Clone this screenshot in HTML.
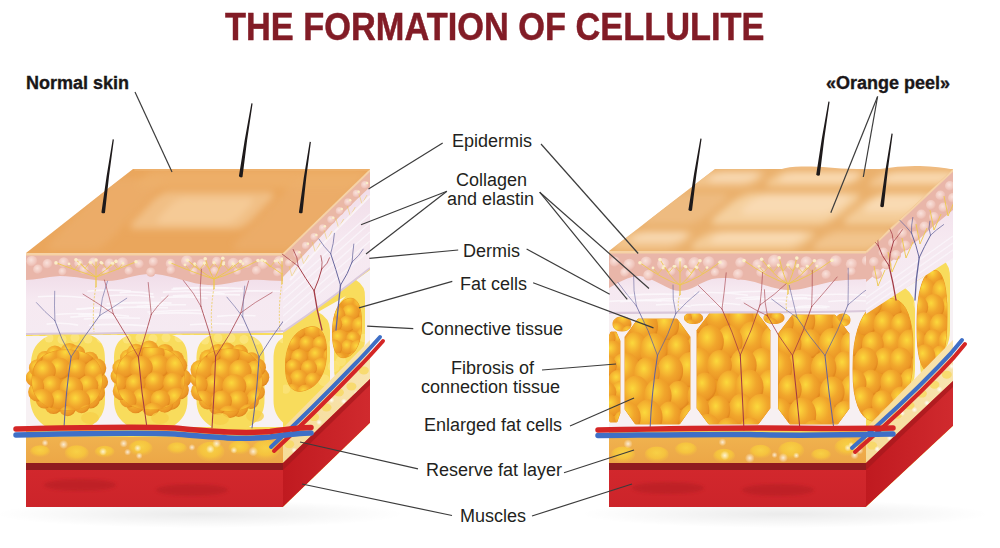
<!DOCTYPE html><html><head><meta charset="utf-8"><style>
html,body{margin:0;padding:0;background:#fff;}
body{width:1000px;height:548px;overflow:hidden;position:relative;}
svg{position:absolute;left:0;top:0;}
.t{position:absolute;font-family:"Liberation Sans",sans-serif;color:#231f20;white-space:nowrap;line-height:1;}
</style></head><body>
<svg width="1000" height="548" viewBox="0 0 1000 548">

<defs>
 <filter id="blur4" x="-10%" y="-10%" width="120%" height="120%"><feGaussianBlur stdDeviation="3.5"/></filter>
 <filter id="blur2"><feGaussianBlur stdDeviation="1.5"/></filter>
 <radialGradient id="tileL" cx="0.5" cy="0.5" r="0.5">
  <stop offset="0" stop-color="#f6cc98"/><stop offset="0.55" stop-color="#f2bf83"/><stop offset="1" stop-color="#eba75e" stop-opacity="0"/>
 </radialGradient>
 <radialGradient id="tileR" cx="0.5" cy="0.5" r="0.55">
  <stop offset="0" stop-color="#f9dfba"/><stop offset="0.55" stop-color="#f5cd9c"/><stop offset="0.85" stop-color="#efbd82"/><stop offset="1" stop-color="#eab06c" stop-opacity="0"/>
 </radialGradient>
 <radialGradient id="ball" cx="0.38" cy="0.36" r="0.66">
  <stop offset="0" stop-color="#fbd93c"/><stop offset="0.22" stop-color="#f8c436"/><stop offset="0.55" stop-color="#f1a62c"/><stop offset="0.88" stop-color="#eb9626"/><stop offset="1" stop-color="#e0861c"/>
 </radialGradient>
 <radialGradient id="blob" cx="0.5" cy="0.4" r="0.6">
  <stop offset="0" stop-color="#fce044"/><stop offset="0.6" stop-color="#f8cc3a"/><stop offset="1" stop-color="#f0b444" stop-opacity="0.3"/>
 </radialGradient>
 <radialGradient id="papilla" cx="0.42" cy="0.38" r="0.62">
  <stop offset="0" stop-color="#f9e2dc"/><stop offset="0.7" stop-color="#f0c6bc"/><stop offset="1" stop-color="#e9b3a7"/>
 </radialGradient>
 <radialGradient id="spark" cx="0.5" cy="0.5" r="0.5">
  <stop offset="0" stop-color="#ffffff" stop-opacity="0.95"/><stop offset="1" stop-color="#ffffff" stop-opacity="0"/>
 </radialGradient>
 <radialGradient id="shadow" cx="0.5" cy="0.5" r="0.5">
  <stop offset="0" stop-color="#000" stop-opacity="0.08"/><stop offset="1" stop-color="#000" stop-opacity="0"/>
 </radialGradient>
 <linearGradient id="lav" x1="0" y1="0" x2="0" y2="1">
  <stop offset="0" stop-color="#f0dce8"/><stop offset="0.45" stop-color="#f6e9f1"/><stop offset="1" stop-color="#f5eaf2"/>
 </linearGradient>
 <linearGradient id="resv" x1="0" y1="0" x2="0" y2="1">
  <stop offset="0" stop-color="#f0b24e"/><stop offset="1" stop-color="#eca646"/>
 </linearGradient>
 <linearGradient id="resvS" x1="0" y1="0" x2="1" y2="0">
  <stop offset="0" stop-color="#f6dc98"/><stop offset="1" stop-color="#f8e4b0"/>
 </linearGradient>
 <linearGradient id="musS" x1="0" y1="0" x2="1" y2="0">
  <stop offset="0" stop-color="#c01a20"/><stop offset="1" stop-color="#d02a2e"/>
 </linearGradient>
 <linearGradient id="mus" x1="0" y1="0" x2="0" y2="1">
  <stop offset="0" stop-color="#d3282d"/><stop offset="1" stop-color="#cc242a"/>
 </linearGradient>
</defs>

<rect width="1000" height="548" fill="#ffffff"/>
<ellipse cx="200" cy="514" rx="205" ry="14" fill="url(#shadow)"/>
<ellipse cx="785" cy="514" rx="205" ry="14" fill="url(#shadow)"/>
<clipPath id="cLF"><rect x="26" y="253" width="257" height="254"/></clipPath>
<g clip-path="url(#cLF)">
<rect x="26" y="253" width="257" height="254" fill="#f8dc58"/>
<rect x="26" y="330" width="257" height="98" fill="#f7f1f4"/>
<rect x="26" y="333" width="257" height="95" fill="#f8dc5c"/>
<circle cx="36" cy="338.5" r="4.5" fill="#fbe57e" opacity="0.85"/>
<circle cx="49" cy="338.0" r="4.5" fill="#fbe57e" opacity="0.85"/>
<circle cx="62" cy="339.5" r="4.5" fill="#fbe57e" opacity="0.85"/>
<circle cx="75" cy="337.7" r="4.5" fill="#fbe57e" opacity="0.85"/>
<circle cx="88" cy="339.1" r="4.5" fill="#fbe57e" opacity="0.85"/>
<circle cx="101" cy="338.6" r="4.5" fill="#fbe57e" opacity="0.85"/>
<circle cx="114" cy="337.7" r="4.5" fill="#fbe57e" opacity="0.85"/>
<circle cx="127" cy="339.0" r="4.5" fill="#fbe57e" opacity="0.85"/>
<circle cx="140" cy="337.6" r="4.5" fill="#fbe57e" opacity="0.85"/>
<circle cx="153" cy="338.8" r="4.5" fill="#fbe57e" opacity="0.85"/>
<circle cx="166" cy="337.7" r="4.5" fill="#fbe57e" opacity="0.85"/>
<circle cx="179" cy="337.8" r="4.5" fill="#fbe57e" opacity="0.85"/>
<circle cx="192" cy="338.8" r="4.5" fill="#fbe57e" opacity="0.85"/>
<circle cx="205" cy="340.0" r="4.5" fill="#fbe57e" opacity="0.85"/>
<circle cx="218" cy="337.9" r="4.5" fill="#fbe57e" opacity="0.85"/>
<circle cx="231" cy="338.2" r="4.5" fill="#fbe57e" opacity="0.85"/>
<circle cx="244" cy="339.4" r="4.5" fill="#fbe57e" opacity="0.85"/>
<circle cx="257" cy="340.3" r="4.5" fill="#fbe57e" opacity="0.85"/>
<circle cx="270" cy="339.2" r="4.5" fill="#fbe57e" opacity="0.85"/>
<circle cx="283" cy="338.7" r="4.5" fill="#fbe57e" opacity="0.85"/>
<path d="M89.5 335 C102.5 339 105.0 348 105.0 360 L105.0 400 C105.0 412 100.5 420 89.5 427 L129.5 427 C118.5 420 114.0 412 114.0 400 L114.0 360 C114.0 348 116.5 339 129.5 335 Z" fill="#f7f1f4"/>
<path d="M172 335 C185 339 187.5 348 187.5 360 L187.5 400 C187.5 412 183 420 172 427 L212 427 C201 420 196.5 412 196.5 400 L196.5 360 C196.5 348 199 339 212 335 Z" fill="#f7f1f4"/>
<path d="M249 335 C262 339 264.5 348 264.5 360 L264.5 400 C264.5 412 260 420 249 427 L289 427 C278 420 273.5 412 273.5 400 L273.5 360 C273.5 348 276 339 289 335 Z" fill="#f7f1f4"/>
<path d="M26 336 L48 336 C36 342 32 350 31 362 L30 400 C31 412 36 420 46 427 L26 427 Z" fill="#f7f1f4"/>
<circle cx="99.6" cy="381.8" r="8.5" fill="url(#ball)"/><circle cx="96.0" cy="392.8" r="9.0" fill="url(#ball)"/><circle cx="90.6" cy="399.2" r="9.2" fill="url(#ball)"/><circle cx="81.5" cy="404.8" r="8.4" fill="url(#ball)"/><circle cx="67.5" cy="407.7" r="8.5" fill="url(#ball)"/><circle cx="53.5" cy="405.2" r="8.8" fill="url(#ball)"/><circle cx="44.4" cy="400.0" r="8.6" fill="url(#ball)"/><circle cx="37.5" cy="392.0" r="9.4" fill="url(#ball)"/><circle cx="34.4" cy="377.8" r="8.7" fill="url(#ball)"/><circle cx="37.6" cy="367.9" r="8.7" fill="url(#ball)"/><circle cx="45.1" cy="359.4" r="8.5" fill="url(#ball)"/><circle cx="54.9" cy="354.3" r="8.8" fill="url(#ball)"/><circle cx="69.4" cy="352.4" r="9.5" fill="url(#ball)"/><circle cx="77.1" cy="353.7" r="8.3" fill="url(#ball)"/><circle cx="89.9" cy="360.3" r="8.5" fill="url(#ball)"/><circle cx="96.5" cy="368.1" r="9.8" fill="url(#ball)"/>
<clipPath id="cc1"><polygon points="102.0,380.0 101.6,386.0 100.5,390.8 98.7,395.1 96.1,398.9 92.9,402.2 89.0,405.0 84.6,407.1 79.6,408.7 74.0,409.7 67.0,410.0 60.0,409.7 54.4,408.7 49.4,407.1 45.0,405.0 41.1,402.2 37.9,398.9 35.3,395.1 33.5,390.8 32.4,386.0 32.0,380.0 32.4,374.0 33.5,369.2 35.3,364.9 37.9,361.1 41.1,357.8 45.0,355.0 49.4,352.9 54.4,351.3 60.0,350.3 67.0,350.0 74.0,350.3 79.6,351.3 84.6,352.9 89.0,355.0 92.9,357.8 96.1,361.1 98.7,364.9 100.5,369.2 101.6,374.0"/></clipPath><polygon points="102.0,380.0 101.6,386.0 100.5,390.8 98.7,395.1 96.1,398.9 92.9,402.2 89.0,405.0 84.6,407.1 79.6,408.7 74.0,409.7 67.0,410.0 60.0,409.7 54.4,408.7 49.4,407.1 45.0,405.0 41.1,402.2 37.9,398.9 35.3,395.1 33.5,390.8 32.4,386.0 32.0,380.0 32.4,374.0 33.5,369.2 35.3,364.9 37.9,361.1 41.1,357.8 45.0,355.0 49.4,352.9 54.4,351.3 60.0,350.3 67.0,350.0 74.0,350.3 79.6,351.3 84.6,352.9 89.0,355.0 92.9,357.8 96.1,361.1 98.7,364.9 100.5,369.2 101.6,374.0" fill="#ec9a22" stroke="#ec9a22" stroke-width="1" stroke-linejoin="round"/><g clip-path="url(#cc1)"><circle cx="84.2" cy="354.2" r="9.7" fill="url(#ball)"/><circle cx="49.8" cy="355.3" r="10.0" fill="url(#ball)"/><circle cx="67.9" cy="355.5" r="11.5" fill="url(#ball)"/><circle cx="105.0" cy="355.8" r="9.6" fill="url(#ball)"/><circle cx="32.0" cy="356.7" r="10.7" fill="url(#ball)"/><circle cx="59.6" cy="368.6" r="10.8" fill="url(#ball)"/><circle cx="77.2" cy="369.3" r="10.1" fill="url(#ball)"/><circle cx="95.0" cy="370.4" r="10.6" fill="url(#ball)"/><circle cx="44.8" cy="371.1" r="11.0" fill="url(#ball)"/><circle cx="104.5" cy="384.3" r="11.4" fill="url(#ball)"/><circle cx="88.2" cy="385.3" r="10.1" fill="url(#ball)"/><circle cx="52.0" cy="385.8" r="10.2" fill="url(#ball)"/><circle cx="33.4" cy="386.6" r="10.7" fill="url(#ball)"/><circle cx="71.4" cy="388.0" r="11.6" fill="url(#ball)"/><circle cx="60.0" cy="399.5" r="10.0" fill="url(#ball)"/><circle cx="94.2" cy="399.8" r="11.1" fill="url(#ball)"/><circle cx="42.0" cy="401.0" r="11.9" fill="url(#ball)"/><circle cx="78.2" cy="401.4" r="12.0" fill="url(#ball)"/><circle cx="32.2" cy="415.3" r="10.3" fill="url(#ball)"/><circle cx="68.1" cy="415.4" r="9.6" fill="url(#ball)"/><circle cx="88.3" cy="415.7" r="10.9" fill="url(#ball)"/><circle cx="104.9" cy="415.8" r="11.3" fill="url(#ball)"/><circle cx="53.0" cy="418.0" r="9.8" fill="url(#ball)"/></g>
<circle cx="182.2" cy="378.4" r="9.3" fill="url(#ball)"/><circle cx="179.5" cy="390.1" r="9.4" fill="url(#ball)"/><circle cx="171.0" cy="400.4" r="9.5" fill="url(#ball)"/><circle cx="164.6" cy="404.2" r="8.5" fill="url(#ball)"/><circle cx="150.8" cy="407.2" r="8.8" fill="url(#ball)"/><circle cx="135.7" cy="403.9" r="9.4" fill="url(#ball)"/><circle cx="128.2" cy="398.9" r="8.7" fill="url(#ball)"/><circle cx="121.9" cy="390.9" r="9.2" fill="url(#ball)"/><circle cx="118.9" cy="376.1" r="8.4" fill="url(#ball)"/><circle cx="121.1" cy="367.8" r="8.7" fill="url(#ball)"/><circle cx="128.6" cy="357.8" r="8.6" fill="url(#ball)"/><circle cx="135.9" cy="353.0" r="9.3" fill="url(#ball)"/><circle cx="149.3" cy="349.8" r="9.3" fill="url(#ball)"/><circle cx="165.0" cy="353.0" r="9.1" fill="url(#ball)"/><circle cx="174.7" cy="359.9" r="9.5" fill="url(#ball)"/><circle cx="178.6" cy="365.2" r="8.5" fill="url(#ball)"/>
<clipPath id="cc2"><polygon points="184.5,378.5 184.1,384.7 183.0,389.7 181.3,394.1 178.8,398.0 175.7,401.4 171.9,404.3 167.6,406.5 162.7,408.2 157.3,409.2 150.5,409.5 143.7,409.2 138.3,408.2 133.4,406.5 129.1,404.3 125.3,401.4 122.2,398.0 119.7,394.1 118.0,389.7 116.9,384.7 116.5,378.5 116.9,372.3 118.0,367.3 119.7,362.9 122.2,359.0 125.3,355.6 129.1,352.7 133.4,350.5 138.3,348.8 143.7,347.8 150.5,347.5 157.3,347.8 162.7,348.8 167.6,350.5 171.9,352.7 175.7,355.6 178.8,359.0 181.3,362.9 183.0,367.3 184.1,372.3"/></clipPath><polygon points="184.5,378.5 184.1,384.7 183.0,389.7 181.3,394.1 178.8,398.0 175.7,401.4 171.9,404.3 167.6,406.5 162.7,408.2 157.3,409.2 150.5,409.5 143.7,409.2 138.3,408.2 133.4,406.5 129.1,404.3 125.3,401.4 122.2,398.0 119.7,394.1 118.0,389.7 116.9,384.7 116.5,378.5 116.9,372.3 118.0,367.3 119.7,362.9 122.2,359.0 125.3,355.6 129.1,352.7 133.4,350.5 138.3,348.8 143.7,347.8 150.5,347.5 157.3,347.8 162.7,348.8 167.6,350.5 171.9,352.7 175.7,355.6 178.8,359.0 181.3,362.9 183.0,367.3 184.1,372.3" fill="#ec9a22" stroke="#ec9a22" stroke-width="1" stroke-linejoin="round"/><g clip-path="url(#cc2)"><circle cx="188.2" cy="351.1" r="11.8" fill="url(#ball)"/><circle cx="132.4" cy="352.0" r="10.2" fill="url(#ball)"/><circle cx="170.6" cy="353.1" r="9.9" fill="url(#ball)"/><circle cx="117.0" cy="353.2" r="9.9" fill="url(#ball)"/><circle cx="153.6" cy="353.3" r="11.0" fill="url(#ball)"/><circle cx="157.8" cy="366.2" r="11.8" fill="url(#ball)"/><circle cx="125.0" cy="366.3" r="11.2" fill="url(#ball)"/><circle cx="177.8" cy="366.4" r="12.0" fill="url(#ball)"/><circle cx="141.1" cy="367.6" r="11.6" fill="url(#ball)"/><circle cx="155.1" cy="381.7" r="9.9" fill="url(#ball)"/><circle cx="173.5" cy="383.1" r="10.5" fill="url(#ball)"/><circle cx="116.7" cy="383.2" r="9.8" fill="url(#ball)"/><circle cx="190.7" cy="383.4" r="10.5" fill="url(#ball)"/><circle cx="135.5" cy="384.0" r="9.9" fill="url(#ball)"/><circle cx="142.3" cy="398.4" r="10.4" fill="url(#ball)"/><circle cx="176.6" cy="398.5" r="10.8" fill="url(#ball)"/><circle cx="160.4" cy="399.7" r="9.8" fill="url(#ball)"/><circle cx="124.5" cy="400.9" r="11.9" fill="url(#ball)"/><circle cx="117.7" cy="412.6" r="11.6" fill="url(#ball)"/><circle cx="190.5" cy="412.6" r="10.2" fill="url(#ball)"/><circle cx="153.4" cy="414.1" r="11.4" fill="url(#ball)"/><circle cx="135.5" cy="414.6" r="10.1" fill="url(#ball)"/><circle cx="170.2" cy="414.7" r="9.9" fill="url(#ball)"/></g>
<circle cx="259.6" cy="377.3" r="9.7" fill="url(#ball)"/><circle cx="256.8" cy="392.1" r="8.1" fill="url(#ball)"/><circle cx="250.5" cy="400.5" r="8.5" fill="url(#ball)"/><circle cx="238.6" cy="407.3" r="9.6" fill="url(#ball)"/><circle cx="230.2" cy="408.7" r="9.2" fill="url(#ball)"/><circle cx="217.3" cy="406.5" r="8.6" fill="url(#ball)"/><circle cx="207.6" cy="400.6" r="8.8" fill="url(#ball)"/><circle cx="200.7" cy="391.2" r="9.8" fill="url(#ball)"/><circle cx="198.3" cy="378.7" r="8.2" fill="url(#ball)"/><circle cx="200.3" cy="369.8" r="9.8" fill="url(#ball)"/><circle cx="208.5" cy="358.7" r="9.2" fill="url(#ball)"/><circle cx="218.1" cy="353.2" r="9.3" fill="url(#ball)"/><circle cx="226.9" cy="351.4" r="8.8" fill="url(#ball)"/><circle cx="239.5" cy="353.0" r="8.4" fill="url(#ball)"/><circle cx="251.5" cy="360.5" r="8.2" fill="url(#ball)"/><circle cx="256.6" cy="367.3" r="9.4" fill="url(#ball)"/>
<clipPath id="cc3"><polygon points="262.0,380.0 261.6,386.2 260.6,391.2 258.8,395.6 256.4,399.5 253.4,402.9 249.8,405.8 245.6,408.0 240.9,409.7 235.6,410.7 229.0,411.0 222.4,410.7 217.1,409.7 212.4,408.0 208.2,405.8 204.6,402.9 201.6,399.5 199.2,395.6 197.4,391.2 196.4,386.2 196.0,380.0 196.4,373.8 197.4,368.8 199.2,364.4 201.6,360.5 204.6,357.1 208.2,354.2 212.4,352.0 217.1,350.3 222.4,349.3 229.0,349.0 235.6,349.3 240.9,350.3 245.6,352.0 249.8,354.2 253.4,357.1 256.4,360.5 258.8,364.4 260.6,368.8 261.6,373.8"/></clipPath><polygon points="262.0,380.0 261.6,386.2 260.6,391.2 258.8,395.6 256.4,399.5 253.4,402.9 249.8,405.8 245.6,408.0 240.9,409.7 235.6,410.7 229.0,411.0 222.4,410.7 217.1,409.7 212.4,408.0 208.2,405.8 204.6,402.9 201.6,399.5 199.2,395.6 197.4,391.2 196.4,386.2 196.0,380.0 196.4,373.8 197.4,368.8 199.2,364.4 201.6,360.5 204.6,357.1 208.2,354.2 212.4,352.0 217.1,350.3 222.4,349.3 229.0,349.0 235.6,349.3 240.9,350.3 245.6,352.0 249.8,354.2 253.4,357.1 256.4,360.5 258.8,364.4 260.6,368.8 261.6,373.8" fill="#ec9a22" stroke="#ec9a22" stroke-width="1" stroke-linejoin="round"/><g clip-path="url(#cc3)"><circle cx="249.2" cy="352.9" r="10.2" fill="url(#ball)"/><circle cx="211.8" cy="352.9" r="9.9" fill="url(#ball)"/><circle cx="195.8" cy="354.7" r="11.6" fill="url(#ball)"/><circle cx="229.9" cy="354.9" r="9.8" fill="url(#ball)"/><circle cx="266.8" cy="355.4" r="11.0" fill="url(#ball)"/><circle cx="202.2" cy="368.1" r="11.7" fill="url(#ball)"/><circle cx="222.3" cy="370.7" r="11.6" fill="url(#ball)"/><circle cx="256.1" cy="370.9" r="10.7" fill="url(#ball)"/><circle cx="240.0" cy="371.3" r="11.5" fill="url(#ball)"/><circle cx="214.7" cy="384.3" r="9.8" fill="url(#ball)"/><circle cx="197.3" cy="384.7" r="10.4" fill="url(#ball)"/><circle cx="251.8" cy="385.2" r="11.4" fill="url(#ball)"/><circle cx="267.6" cy="385.7" r="10.6" fill="url(#ball)"/><circle cx="234.3" cy="386.2" r="12.0" fill="url(#ball)"/><circle cx="256.6" cy="399.3" r="10.4" fill="url(#ball)"/><circle cx="238.2" cy="400.5" r="10.1" fill="url(#ball)"/><circle cx="202.5" cy="400.6" r="10.1" fill="url(#ball)"/><circle cx="221.5" cy="400.9" r="10.5" fill="url(#ball)"/><circle cx="248.8" cy="414.6" r="10.5" fill="url(#ball)"/><circle cx="228.9" cy="417.2" r="11.6" fill="url(#ball)"/><circle cx="267.8" cy="417.5" r="11.5" fill="url(#ball)"/><circle cx="213.2" cy="417.7" r="9.6" fill="url(#ball)"/><circle cx="194.9" cy="417.8" r="10.5" fill="url(#ball)"/></g>
<ellipse cx="90" cy="418" rx="9" ry="6" fill="#f6cf4a" opacity="0.8"/>
<ellipse cx="160" cy="418" rx="9" ry="6" fill="#f6cf4a" opacity="0.8"/>
<ellipse cx="220" cy="419" rx="9" ry="6" fill="#f6cf4a" opacity="0.8"/>
<ellipse cx="255" cy="416" rx="9" ry="6" fill="#f6cf4a" opacity="0.8"/>
<path d="M26 272 L283 272 L283 331 C240 333 180 332 120 333 C80 334 50 333 26 334 Z" fill="url(#lav)"/>
<path d="M26 334 C50 333 80 334 120 333 C180 332 240 333 283 331" stroke="#dac8da" stroke-width="2.2" fill="none"/>
<path d="M46.5 324.1 q15.9 -2 31.7 1.0" stroke="#fcf8fb" stroke-width="1.6" fill="none" opacity="0.85"/>
<path d="M217.0 316.4 q19.3 -2 38.6 -0.6" stroke="#fcf8fb" stroke-width="1.6" fill="none" opacity="0.85"/>
<path d="M189.9 324.7 q27.4 -2 54.8 0.2" stroke="#fcf8fb" stroke-width="1.6" fill="none" opacity="0.85"/>
<path d="M114.1 303.4 q28.7 -2 57.4 -0.3" stroke="#fcf8fb" stroke-width="1.6" fill="none" opacity="0.85"/>
<path d="M147.3 312.0 q26.7 -2 53.5 -1.8" stroke="#fcf8fb" stroke-width="1.6" fill="none" opacity="0.85"/>
<path d="M78.3 314.8 q25.3 -2 50.7 1.4" stroke="#fcf8fb" stroke-width="1.6" fill="none" opacity="0.85"/>
<path d="M37.9 296.8 q23.8 -2 47.6 1.0" stroke="#fcf8fb" stroke-width="1.6" fill="none" opacity="0.85"/>
<path d="M70.3 317.1 q21.7 -2 43.5 -0.8" stroke="#fcf8fb" stroke-width="1.6" fill="none" opacity="0.85"/>
<path d="M214.3 292.1 q33.5 -2 67.0 -0.8" stroke="#fcf8fb" stroke-width="1.6" fill="none" opacity="0.85"/>
<path d="M108.2 295.7 q23.0 -2 46.1 1.4" stroke="#fcf8fb" stroke-width="1.6" fill="none" opacity="0.85"/>
<path d="M76.2 309.1 q22.4 -2 44.8 -0.8" stroke="#fcf8fb" stroke-width="1.6" fill="none" opacity="0.85"/>
<path d="M55.6 314.5 q21.8 -2 43.7 -0.1" stroke="#fcf8fb" stroke-width="1.6" fill="none" opacity="0.85"/>
<path d="M162.8 292.1 q30.9 -2 61.8 1.6" stroke="#fcf8fb" stroke-width="1.6" fill="none" opacity="0.85"/>
<path d="M83.7 319.0 q28.2 -2 56.4 -0.8" stroke="#fcf8fb" stroke-width="1.6" fill="none" opacity="0.85"/>
<path d="M87.3 291.2 q21.8 -2 43.6 -0.2" stroke="#fcf8fb" stroke-width="1.6" fill="none" opacity="0.85"/>
<path d="M136.5 306.3 q24.8 -2 49.7 -1.5" stroke="#fcf8fb" stroke-width="1.6" fill="none" opacity="0.85"/>
<path d="M77.0 309.2 q23.1 -2 46.3 -1.3" stroke="#fcf8fb" stroke-width="1.6" fill="none" opacity="0.85"/>
<path d="M88.8 325.2 q30.5 -2 61.0 0.9" stroke="#fcf8fb" stroke-width="1.6" fill="none" opacity="0.85"/>
<path d="M106.6 303.9 q28.4 -2 56.7 0.2" stroke="#fcf8fb" stroke-width="1.6" fill="none" opacity="0.85"/>
<path d="M171.4 289.4 q28.5 -2 57.1 -1.2" stroke="#fcf8fb" stroke-width="1.6" fill="none" opacity="0.85"/>
<path d="M100.3 308.2 q33.9 -2 67.7 -0.4" stroke="#fcf8fb" stroke-width="1.6" fill="none" opacity="0.85"/>
<path d="M172.7 295.9 q33.6 -2 67.3 -1.0" stroke="#fcf8fb" stroke-width="1.6" fill="none" opacity="0.85"/>
<path d="M148.8 313.9 q28.2 -2 56.5 -0.2" stroke="#fcf8fb" stroke-width="1.6" fill="none" opacity="0.85"/>
<path d="M172.9 288.4 q34.7 -2 69.3 0.2" stroke="#fcf8fb" stroke-width="1.6" fill="none" opacity="0.85"/>
<path d="M161.1 297.7 q23.3 -2 46.6 0.6" stroke="#fcf8fb" stroke-width="1.6" fill="none" opacity="0.85"/>
<path d="M119.6 292.6 q16.9 -2 33.8 1.5" stroke="#fcf8fb" stroke-width="1.6" fill="none" opacity="0.85"/>
<path d="M26 253 L283 253 L283 281 C272 281 262 279 250 280 C235 281 222 286 208 285 C190 284 175 276 155 274 C135 273 120 282 105 281 C90 280 75 276 60 276 C45 277 35 280 26 280 Z" fill="#e9b6a9"/>
<circle cx="32.0" cy="261.3" r="5.6" fill="url(#papilla)"/><circle cx="47.6" cy="264.0" r="5.0" fill="url(#papilla)"/><circle cx="63.9" cy="262.6" r="5.4" fill="url(#papilla)"/><circle cx="78.9" cy="263.5" r="4.7" fill="url(#papilla)"/><circle cx="93.4" cy="262.2" r="4.8" fill="url(#papilla)"/><circle cx="109.7" cy="263.5" r="5.0" fill="url(#papilla)"/><circle cx="122.6" cy="263.0" r="5.7" fill="url(#papilla)"/><circle cx="139.3" cy="264.2" r="4.7" fill="url(#papilla)"/><circle cx="153.5" cy="262.0" r="4.8" fill="url(#papilla)"/><circle cx="170.6" cy="263.7" r="4.9" fill="url(#papilla)"/><circle cx="187.0" cy="261.2" r="6.0" fill="url(#papilla)"/><circle cx="201.8" cy="264.1" r="5.1" fill="url(#papilla)"/><circle cx="216.7" cy="261.4" r="4.7" fill="url(#papilla)"/><circle cx="233.4" cy="263.5" r="5.7" fill="url(#papilla)"/><circle cx="247.1" cy="262.9" r="5.9" fill="url(#papilla)"/><circle cx="263.2" cy="264.5" r="5.5" fill="url(#papilla)"/><circle cx="279.2" cy="261.2" r="5.3" fill="url(#papilla)"/>
<circle cx="38.0" cy="269.4" r="4.9" fill="url(#papilla)"/><circle cx="62.6" cy="271.8" r="4.2" fill="url(#papilla)"/><circle cx="84.2" cy="269.8" r="4.9" fill="url(#papilla)"/><circle cx="105.5" cy="271.1" r="3.9" fill="url(#papilla)"/><circle cx="128.9" cy="271.0" r="4.4" fill="url(#papilla)"/><circle cx="150.9" cy="272.1" r="4.7" fill="url(#papilla)"/><circle cx="171.0" cy="270.2" r="4.5" fill="url(#papilla)"/><circle cx="193.8" cy="271.4" r="4.0" fill="url(#papilla)"/><circle cx="214.8" cy="270.9" r="4.2" fill="url(#papilla)"/><circle cx="237.5" cy="271.6" r="3.9" fill="url(#papilla)"/><circle cx="256.6" cy="270.6" r="4.7" fill="url(#papilla)"/><circle cx="277.8" cy="272.4" r="4.6" fill="url(#papilla)"/>
<path d="M96 287 L96 277" stroke="#edc84c" stroke-width="1.3" fill="none"/><path d="M96 277 Q78.0 271.0 56.0 262.9" stroke="#edc84c" stroke-width="0.9" fill="none"/><path d="M74.0 269.9 L69.0 263.9" stroke="#edc84c" stroke-width="0.7" fill="none"/><circle cx="69.0" cy="263.9" r="1.4" fill="#fbeec8"/><path d="M74.0 269.9 L79.0 263.9" stroke="#edc84c" stroke-width="0.7" fill="none"/><circle cx="79.0" cy="263.9" r="1.4" fill="#fbeec8"/><circle cx="56.0" cy="262.9" r="1.8" fill="#fbeec8"/><path d="M96 277 Q87.0 271.0 76.0 259.7" stroke="#edc84c" stroke-width="0.9" fill="none"/><path d="M85.0 268.4 L80.0 262.4" stroke="#edc84c" stroke-width="0.7" fill="none"/><circle cx="80.0" cy="262.4" r="1.4" fill="#fbeec8"/><path d="M85.0 268.4 L90.0 262.4" stroke="#edc84c" stroke-width="0.7" fill="none"/><circle cx="90.0" cy="262.4" r="1.4" fill="#fbeec8"/><circle cx="76.0" cy="259.7" r="1.8" fill="#fbeec8"/><path d="M96 277 Q96.0 271.0 96.0 260.0" stroke="#edc84c" stroke-width="0.9" fill="none"/><path d="M96.0 268.5 L91.0 262.5" stroke="#edc84c" stroke-width="0.7" fill="none"/><circle cx="91.0" cy="262.5" r="1.4" fill="#fbeec8"/><path d="M96.0 268.5 L101.0 262.5" stroke="#edc84c" stroke-width="0.7" fill="none"/><circle cx="101.0" cy="262.5" r="1.4" fill="#fbeec8"/><circle cx="96.0" cy="260.0" r="1.8" fill="#fbeec8"/><path d="M96 277 Q105.0 271.0 116.0 261.4" stroke="#edc84c" stroke-width="0.9" fill="none"/><path d="M107.0 269.2 L102.0 263.2" stroke="#edc84c" stroke-width="0.7" fill="none"/><circle cx="102.0" cy="263.2" r="1.4" fill="#fbeec8"/><path d="M107.0 269.2 L112.0 263.2" stroke="#edc84c" stroke-width="0.7" fill="none"/><circle cx="112.0" cy="263.2" r="1.4" fill="#fbeec8"/><circle cx="116.0" cy="261.4" r="1.8" fill="#fbeec8"/><path d="M96 277 Q114.0 271.0 136.0 261.8" stroke="#edc84c" stroke-width="0.9" fill="none"/><path d="M118.0 269.4 L113.0 263.4" stroke="#edc84c" stroke-width="0.7" fill="none"/><circle cx="113.0" cy="263.4" r="1.4" fill="#fbeec8"/><path d="M118.0 269.4 L123.0 263.4" stroke="#edc84c" stroke-width="0.7" fill="none"/><circle cx="123.0" cy="263.4" r="1.4" fill="#fbeec8"/><circle cx="136.0" cy="261.8" r="1.8" fill="#fbeec8"/>
<path d="M96 286 Q92 308 94 332" stroke="#eed070" stroke-width="1" stroke-dasharray="2 1.5" fill="none"/>
<path d="M214 289 L214 279" stroke="#edc84c" stroke-width="1.3" fill="none"/><path d="M214 279 Q194.2 273.0 170.0 262.6" stroke="#edc84c" stroke-width="0.9" fill="none"/><path d="M190.0 270.8 L185.0 264.8" stroke="#edc84c" stroke-width="0.7" fill="none"/><circle cx="185.0" cy="264.8" r="1.4" fill="#fbeec8"/><path d="M190.0 270.8 L195.0 264.8" stroke="#edc84c" stroke-width="0.7" fill="none"/><circle cx="195.0" cy="264.8" r="1.4" fill="#fbeec8"/><circle cx="170.0" cy="262.6" r="1.8" fill="#fbeec8"/><path d="M214 279 Q202.1 273.0 187.6 260.3" stroke="#edc84c" stroke-width="0.9" fill="none"/><path d="M199.6 269.6 L194.6 263.6" stroke="#edc84c" stroke-width="0.7" fill="none"/><circle cx="194.6" cy="263.6" r="1.4" fill="#fbeec8"/><path d="M199.6 269.6 L204.6 263.6" stroke="#edc84c" stroke-width="0.7" fill="none"/><circle cx="204.6" cy="263.6" r="1.4" fill="#fbeec8"/><circle cx="187.6" cy="260.3" r="1.8" fill="#fbeec8"/><path d="M214 279 Q210.0 273.0 205.2 258.7" stroke="#edc84c" stroke-width="0.9" fill="none"/><path d="M209.2 268.9 L204.2 262.9" stroke="#edc84c" stroke-width="0.7" fill="none"/><circle cx="204.2" cy="262.9" r="1.4" fill="#fbeec8"/><path d="M209.2 268.9 L214.2 262.9" stroke="#edc84c" stroke-width="0.7" fill="none"/><circle cx="214.2" cy="262.9" r="1.4" fill="#fbeec8"/><circle cx="205.2" cy="258.7" r="1.8" fill="#fbeec8"/><path d="M214 279 Q218.0 273.0 222.8 258.3" stroke="#edc84c" stroke-width="0.9" fill="none"/><path d="M218.8 268.7 L213.8 262.7" stroke="#edc84c" stroke-width="0.7" fill="none"/><circle cx="213.8" cy="262.7" r="1.4" fill="#fbeec8"/><path d="M218.8 268.7 L223.8 262.7" stroke="#edc84c" stroke-width="0.7" fill="none"/><circle cx="223.8" cy="262.7" r="1.4" fill="#fbeec8"/><circle cx="222.8" cy="258.3" r="1.8" fill="#fbeec8"/><path d="M214 279 Q225.9 273.0 240.4 261.4" stroke="#edc84c" stroke-width="0.9" fill="none"/><path d="M228.4 270.2 L223.4 264.2" stroke="#edc84c" stroke-width="0.7" fill="none"/><circle cx="223.4" cy="264.2" r="1.4" fill="#fbeec8"/><path d="M228.4 270.2 L233.4 264.2" stroke="#edc84c" stroke-width="0.7" fill="none"/><circle cx="233.4" cy="264.2" r="1.4" fill="#fbeec8"/><circle cx="240.4" cy="261.4" r="1.8" fill="#fbeec8"/><path d="M214 279 Q233.8 273.0 258.0 260.5" stroke="#edc84c" stroke-width="0.9" fill="none"/><path d="M238.0 269.7 L233.0 263.7" stroke="#edc84c" stroke-width="0.7" fill="none"/><circle cx="233.0" cy="263.7" r="1.4" fill="#fbeec8"/><path d="M238.0 269.7 L243.0 263.7" stroke="#edc84c" stroke-width="0.7" fill="none"/><circle cx="243.0" cy="263.7" r="1.4" fill="#fbeec8"/><circle cx="258.0" cy="260.5" r="1.8" fill="#fbeec8"/>
<path d="M214 288 Q210 310 212 332" stroke="#eed070" stroke-width="1" stroke-dasharray="2 1.5" fill="none"/>
<path d="M282 284 L282 274" stroke="#edc84c" stroke-width="1.3" fill="none"/><path d="M282 274 Q273.0 268.0 262.0 260.2" stroke="#edc84c" stroke-width="0.9" fill="none"/><path d="M270.0 267.1 L265.0 261.1" stroke="#edc84c" stroke-width="0.7" fill="none"/><circle cx="265.0" cy="261.1" r="1.4" fill="#fbeec8"/><path d="M270.0 267.1 L275.0 261.1" stroke="#edc84c" stroke-width="0.7" fill="none"/><circle cx="275.0" cy="261.1" r="1.4" fill="#fbeec8"/><circle cx="262.0" cy="260.2" r="1.8" fill="#fbeec8"/><path d="M282 274 Q282.0 268.0 282.0 259.4" stroke="#edc84c" stroke-width="0.9" fill="none"/><path d="M282.0 266.7 L277.0 260.7" stroke="#edc84c" stroke-width="0.7" fill="none"/><circle cx="277.0" cy="260.7" r="1.4" fill="#fbeec8"/><path d="M282.0 266.7 L287.0 260.7" stroke="#edc84c" stroke-width="0.7" fill="none"/><circle cx="287.0" cy="260.7" r="1.4" fill="#fbeec8"/><circle cx="282.0" cy="259.4" r="1.8" fill="#fbeec8"/><path d="M282 274 Q291.0 268.0 302.0 262.3" stroke="#edc84c" stroke-width="0.9" fill="none"/><path d="M294.0 268.2 L289.0 262.2" stroke="#edc84c" stroke-width="0.7" fill="none"/><circle cx="289.0" cy="262.2" r="1.4" fill="#fbeec8"/><path d="M294.0 268.2 L299.0 262.2" stroke="#edc84c" stroke-width="0.7" fill="none"/><circle cx="299.0" cy="262.2" r="1.4" fill="#fbeec8"/><circle cx="302.0" cy="262.3" r="1.8" fill="#fbeec8"/>
<path d="M282 283 Q278 305 280 332" stroke="#eed070" stroke-width="1" stroke-dasharray="2 1.5" fill="none"/>
<rect x="26" y="253" width="257" height="2.5" fill="#f6d2a6"/>
<path d="M64.0 428.0 Q65.7 392.4 71.1 356.9" stroke="#64649c" stroke-width="1.05" fill="none" stroke-linecap="round"/><path d="M71.1 356.9 Q84.2 336.2 99.7 315.5" stroke="#64649c" stroke-width="0.79" fill="none" stroke-linecap="round"/><path d="M99.7 315.5 Q114.0 306.9 126.8 298.2" stroke="#64649c" stroke-width="0.59" fill="none" stroke-linecap="round"/><path d="M99.7 315.5 Q101.1 298.3 107.5 281.1" stroke="#64649c" stroke-width="0.59" fill="none" stroke-linecap="round"/><path d="M71.1 356.9 Q60.7 338.7 54.9 320.6" stroke="#64649c" stroke-width="0.79" fill="none" stroke-linecap="round"/><path d="M54.9 320.6 Q54.2 305.9 54.7 291.2" stroke="#64649c" stroke-width="0.59" fill="none" stroke-linecap="round"/><path d="M54.9 320.6 Q44.3 311.6 36.4 302.6" stroke="#64649c" stroke-width="0.59" fill="none" stroke-linecap="round"/>
<path d="M147.0 428.0 Q141.4 392.5 138.4 357.0" stroke="#a23a44" stroke-width="1.05" fill="none" stroke-linecap="round"/><path d="M138.4 357.0 Q145.4 335.7 151.3 314.3" stroke="#a23a44" stroke-width="0.79" fill="none" stroke-linecap="round"/><path d="M151.3 314.3 Q157.3 305.0 168.1 295.6" stroke="#a23a44" stroke-width="0.59" fill="none" stroke-linecap="round"/><path d="M151.3 314.3 Q149.7 298.4 148.2 282.5" stroke="#a23a44" stroke-width="0.59" fill="none" stroke-linecap="round"/><path d="M138.4 357.0 Q126.7 335.4 113.3 313.9" stroke="#a23a44" stroke-width="0.79" fill="none" stroke-linecap="round"/><path d="M113.3 313.9 Q109.3 296.9 104.4 280.0" stroke="#a23a44" stroke-width="0.59" fill="none" stroke-linecap="round"/><path d="M113.3 313.9 Q99.2 304.0 83.0 294.1" stroke="#a23a44" stroke-width="0.59" fill="none" stroke-linecap="round"/>
<path d="M212.0 428.0 Q214.4 392.3 215.6 356.6" stroke="#a23a44" stroke-width="1.05" fill="none" stroke-linecap="round"/><path d="M215.6 356.6 Q230.4 334.6 240.9 312.7" stroke="#a23a44" stroke-width="0.79" fill="none" stroke-linecap="round"/><path d="M240.9 312.7 Q254.1 302.5 272.1 292.4" stroke="#a23a44" stroke-width="0.59" fill="none" stroke-linecap="round"/><path d="M240.9 312.7 Q243.5 296.8 248.6 280.9" stroke="#a23a44" stroke-width="0.59" fill="none" stroke-linecap="round"/><path d="M215.6 356.6 Q209.6 331.4 200.9 306.3" stroke="#a23a44" stroke-width="0.79" fill="none" stroke-linecap="round"/><path d="M200.9 306.3 Q199.3 287.7 201.4 269.1" stroke="#a23a44" stroke-width="0.59" fill="none" stroke-linecap="round"/><path d="M200.9 306.3 Q194.6 293.4 183.4 280.5" stroke="#a23a44" stroke-width="0.59" fill="none" stroke-linecap="round"/>
<path d="M252.0 428.0 Q257.0 392.4 259.1 356.9" stroke="#64649c" stroke-width="1.05" fill="none" stroke-linecap="round"/><path d="M259.1 356.9 Q270.9 337.7 285.1 318.6" stroke="#64649c" stroke-width="0.79" fill="none" stroke-linecap="round"/><path d="M285.1 318.6 Q296.8 308.1 308.8 297.7" stroke="#64649c" stroke-width="0.59" fill="none" stroke-linecap="round"/><path d="M285.1 318.6 Q286.4 302.6 288.5 286.6" stroke="#64649c" stroke-width="0.59" fill="none" stroke-linecap="round"/><path d="M259.1 356.9 Q252.4 336.9 242.7 317.0" stroke="#64649c" stroke-width="0.79" fill="none" stroke-linecap="round"/><path d="M242.7 317.0 Q242.9 301.5 244.7 286.1" stroke="#64649c" stroke-width="0.59" fill="none" stroke-linecap="round"/><path d="M242.7 317.0 Q235.5 307.0 226.9 297.1" stroke="#64649c" stroke-width="0.59" fill="none" stroke-linecap="round"/>
<rect x="26" y="437" width="257" height="27" fill="url(#resv)"/><ellipse cx="40.0" cy="451.2" rx="10" ry="6" fill="url(#blob)" opacity="0.7"/><ellipse cx="76.7" cy="453.2" rx="12" ry="8" fill="url(#blob)" opacity="0.7"/><ellipse cx="104.6" cy="451.8" rx="10" ry="6" fill="url(#blob)" opacity="0.7"/><ellipse cx="140.6" cy="448.3" rx="12" ry="8" fill="url(#blob)" opacity="0.7"/><ellipse cx="177.0" cy="448.2" rx="10" ry="6" fill="url(#blob)" opacity="0.7"/><ellipse cx="210.5" cy="451.7" rx="14" ry="10" fill="url(#blob)" opacity="0.7"/><ellipse cx="239.3" cy="447.8" rx="11" ry="7" fill="url(#blob)" opacity="0.7"/><ellipse cx="265.6" cy="450.1" rx="14" ry="10" fill="url(#blob)" opacity="0.7"/><circle cx="127.6" cy="452.1" r="3.5" fill="url(#spark)" opacity="0.8"/><circle cx="210.3" cy="449.1" r="4.3" fill="url(#spark)" opacity="0.8"/><circle cx="45.0" cy="442.9" r="3.4" fill="url(#spark)" opacity="0.8"/><circle cx="63.6" cy="444.5" r="4.6" fill="url(#spark)" opacity="0.8"/><circle cx="123.7" cy="443.5" r="4.1" fill="url(#spark)" opacity="0.8"/><circle cx="139.2" cy="455.8" r="3.4" fill="url(#spark)" opacity="0.8"/><circle cx="137.7" cy="448.2" r="3.7" fill="url(#spark)" opacity="0.8"/><circle cx="233.9" cy="450.2" r="3.5" fill="url(#spark)" opacity="0.8"/><circle cx="103.0" cy="451.7" r="4.0" fill="url(#spark)" opacity="0.8"/><circle cx="192.0" cy="447.4" r="3.4" fill="url(#spark)" opacity="0.8"/><circle cx="216.6" cy="443.6" r="4.5" fill="url(#spark)" opacity="0.8"/><circle cx="253.2" cy="451.5" r="4.9" fill="url(#spark)" opacity="0.8"/>
<rect x="26" y="463" width="257" height="44" fill="url(#mus)"/>
<rect x="26" y="463" width="257" height="7" fill="#901b1f"/>
<ellipse cx="80" cy="485" rx="36" ry="6" fill="#b01c22" opacity="0.5" filter="url(#blur2)"/>
<ellipse cx="192" cy="490" rx="36" ry="6" fill="#b01c22" opacity="0.5" filter="url(#blur2)"/>
</g>
<polygon points="283,253 370,169 370,423 283,507" fill="#f8dc58"/>
<clipPath id="cLS"><polygon points="283,253 370,169 370,423 283,507"/></clipPath>
<g clip-path="url(#cLS)">
<path d="M283 325 L370 262 L370 365 L283 445 Z" fill="#f8dc5c"/>
<circle cx="319.9" cy="345.8" r="5.1" fill="#fbe47a" opacity="0.8"/>
<circle cx="333.9" cy="366.3" r="5.9" fill="#fbe47a" opacity="0.8"/>
<circle cx="340.8" cy="361.2" r="5.1" fill="#fbe47a" opacity="0.8"/>
<circle cx="324.1" cy="380.3" r="6.0" fill="#fbe47a" opacity="0.8"/>
<circle cx="332.5" cy="343.8" r="4.1" fill="#fbe47a" opacity="0.8"/>
<circle cx="356.6" cy="323.7" r="5.3" fill="#fbe47a" opacity="0.8"/>
<circle cx="298.7" cy="367.3" r="5.2" fill="#fbe47a" opacity="0.8"/>
<circle cx="298.0" cy="344.1" r="5.5" fill="#fbe47a" opacity="0.8"/>
<circle cx="349.7" cy="339.7" r="5.3" fill="#fbe47a" opacity="0.8"/>
<circle cx="363.9" cy="337.9" r="4.1" fill="#fbe47a" opacity="0.8"/>
<circle cx="315.1" cy="276.1" r="5.8" fill="#fbe47a" opacity="0.8"/>
<circle cx="342.2" cy="277.5" r="4.4" fill="#fbe47a" opacity="0.8"/>
<circle cx="303.9" cy="366.3" r="5.0" fill="#fbe47a" opacity="0.8"/>
<circle cx="285.6" cy="389.2" r="4.6" fill="#fbe47a" opacity="0.8"/>
<path d="M318 312 Q330 318 330 330 L330 380 Q330 390 322 398 L338 386 Q334 378 334 368 L334 322 Q334 306 346 296 Z" fill="#f7f1f4"/>
<path d="M356 280 Q366 286 365 298 L365 340 Q365 348 360 354 L370 350 L370 270 Z" fill="#f7f1f4"/>
<clipPath id="cc4"><polygon points="326.5,351.8 326.3,358.1 325.6,363.3 324.5,368.1 323.0,372.6 321.2,376.6 318.9,380.3 316.3,383.4 313.4,386.1 310.1,388.2 306.0,390.0 301.9,391.1 298.6,391.3 295.7,390.7 293.1,389.3 290.8,387.2 289.0,384.5 287.5,381.1 286.4,377.0 285.7,372.3 285.5,366.2 285.7,359.9 286.4,354.7 287.5,349.9 289.0,345.4 290.8,341.4 293.1,337.7 295.7,334.6 298.6,331.9 301.9,329.8 306.0,328.0 310.1,326.9 313.4,326.7 316.3,327.3 318.9,328.7 321.2,330.8 323.0,333.5 324.5,336.9 325.6,341.0 326.3,345.7"/></clipPath><polygon points="326.5,351.8 326.3,358.1 325.6,363.3 324.5,368.1 323.0,372.6 321.2,376.6 318.9,380.3 316.3,383.4 313.4,386.1 310.1,388.2 306.0,390.0 301.9,391.1 298.6,391.3 295.7,390.7 293.1,389.3 290.8,387.2 289.0,384.5 287.5,381.1 286.4,377.0 285.7,372.3 285.5,366.2 285.7,359.9 286.4,354.7 287.5,349.9 289.0,345.4 290.8,341.4 293.1,337.7 295.7,334.6 298.6,331.9 301.9,329.8 306.0,328.0 310.1,326.9 313.4,326.7 316.3,327.3 318.9,328.7 321.2,330.8 323.0,333.5 324.5,336.9 325.6,341.0 326.3,345.7" fill="#ec9a22" stroke="#ec9a22" stroke-width="1" stroke-linejoin="round"/><g clip-path="url(#cc4)"><circle cx="297.4" cy="329.8" r="9.1" fill="url(#ball)"/><circle cx="313.4" cy="330.0" r="9.0" fill="url(#ball)"/><circle cx="284.7" cy="331.3" r="9.5" fill="url(#ball)"/><circle cx="326.7" cy="331.8" r="7.8" fill="url(#ball)"/><circle cx="293.2" cy="342.6" r="8.1" fill="url(#ball)"/><circle cx="307.2" cy="343.7" r="7.9" fill="url(#ball)"/><circle cx="320.6" cy="343.8" r="7.9" fill="url(#ball)"/><circle cx="284.6" cy="354.9" r="7.8" fill="url(#ball)"/><circle cx="316.9" cy="355.3" r="8.8" fill="url(#ball)"/><circle cx="330.8" cy="356.3" r="7.8" fill="url(#ball)"/><circle cx="299.3" cy="357.5" r="8.4" fill="url(#ball)"/><circle cx="293.6" cy="366.7" r="7.8" fill="url(#ball)"/><circle cx="321.7" cy="366.8" r="9.2" fill="url(#ball)"/><circle cx="309.0" cy="368.0" r="8.0" fill="url(#ball)"/><circle cx="299.0" cy="378.5" r="9.1" fill="url(#ball)"/><circle cx="312.8" cy="380.4" r="7.8" fill="url(#ball)"/><circle cx="328.6" cy="381.1" r="8.7" fill="url(#ball)"/><circle cx="283.9" cy="381.6" r="7.8" fill="url(#ball)"/><circle cx="292.5" cy="392.5" r="8.8" fill="url(#ball)"/><circle cx="305.3" cy="392.6" r="8.1" fill="url(#ball)"/><circle cx="322.8" cy="394.5" r="7.7" fill="url(#ball)"/></g>
<clipPath id="cc5"><polygon points="361.5,322.9 361.3,328.8 360.9,333.6 360.1,338.0 359.1,342.0 357.7,345.7 356.1,348.9 354.3,351.7 352.2,353.9 349.9,355.7 347.0,357.0 344.1,357.7 341.8,357.6 339.7,356.8 337.9,355.3 336.3,353.2 334.9,350.5 333.9,347.2 333.1,343.3 332.7,338.8 332.5,333.1 332.7,327.2 333.1,322.4 333.9,318.0 334.9,314.0 336.3,310.3 337.9,307.1 339.7,304.3 341.8,302.1 344.1,300.3 347.0,299.0 349.9,298.3 352.2,298.4 354.3,299.2 356.1,300.7 357.7,302.8 359.1,305.5 360.1,308.8 360.9,312.7 361.3,317.2"/></clipPath><polygon points="361.5,322.9 361.3,328.8 360.9,333.6 360.1,338.0 359.1,342.0 357.7,345.7 356.1,348.9 354.3,351.7 352.2,353.9 349.9,355.7 347.0,357.0 344.1,357.7 341.8,357.6 339.7,356.8 337.9,355.3 336.3,353.2 334.9,350.5 333.9,347.2 333.1,343.3 332.7,338.8 332.5,333.1 332.7,327.2 333.1,322.4 333.9,318.0 334.9,314.0 336.3,310.3 337.9,307.1 339.7,304.3 341.8,302.1 344.1,300.3 347.0,299.0 349.9,298.3 352.2,298.4 354.3,299.2 356.1,300.7 357.7,302.8 359.1,305.5 360.1,308.8 360.9,312.7 361.3,317.2" fill="#ec9a22" stroke="#ec9a22" stroke-width="1" stroke-linejoin="round"/><g clip-path="url(#cc5)"><circle cx="349.8" cy="300.1" r="8.8" fill="url(#ball)"/><circle cx="332.4" cy="303.0" r="7.4" fill="url(#ball)"/><circle cx="362.1" cy="303.5" r="9.0" fill="url(#ball)"/><circle cx="350.8" cy="312.6" r="8.7" fill="url(#ball)"/><circle cx="337.6" cy="314.5" r="7.7" fill="url(#ball)"/><circle cx="366.7" cy="314.9" r="7.5" fill="url(#ball)"/><circle cx="347.4" cy="323.6" r="8.2" fill="url(#ball)"/><circle cx="334.2" cy="324.2" r="8.0" fill="url(#ball)"/><circle cx="360.6" cy="325.6" r="8.9" fill="url(#ball)"/><circle cx="365.4" cy="335.6" r="8.9" fill="url(#ball)"/><circle cx="339.5" cy="338.4" r="9.0" fill="url(#ball)"/><circle cx="353.3" cy="338.7" r="7.2" fill="url(#ball)"/><circle cx="348.3" cy="346.9" r="7.3" fill="url(#ball)"/><circle cx="334.1" cy="347.7" r="8.1" fill="url(#ball)"/><circle cx="358.5" cy="348.4" r="8.7" fill="url(#ball)"/><circle cx="354.8" cy="359.6" r="7.6" fill="url(#ball)"/><circle cx="339.1" cy="360.2" r="7.5" fill="url(#ball)"/><circle cx="365.7" cy="361.5" r="7.7" fill="url(#ball)"/></g>
<path d="M283 262 L370 178 L370 268 Q330 300 283 332 Z" fill="url(#lav)"/>
<path d="M370 268 Q330 300 283 332" stroke="#dac8da" stroke-width="2" fill="none"/>
<path d="M283 292 L370 214" stroke="#faf5fa" stroke-width="1.3" opacity="0.9"/>
<path d="M283 300 L370 223" stroke="#faf5fa" stroke-width="1.3" opacity="0.9"/>
<path d="M283 308 L370 232" stroke="#faf5fa" stroke-width="1.3" opacity="0.9"/>
<path d="M283 316 L370 241" stroke="#faf5fa" stroke-width="1.3" opacity="0.9"/>
<path d="M283 324 L370 250" stroke="#faf5fa" stroke-width="1.3" opacity="0.9"/>
<path d="M283 253 L370 169 L370 187 Q345 210 325 232 Q305 254 283 277 Z" fill="#eab8a6"/>
<circle cx="289.0" cy="263.0" r="4" fill="url(#papilla)"/>
<circle cx="291.0" cy="261.0" r="1.3" fill="#fbeec8"/>
<circle cx="297.4" cy="254.3" r="4" fill="url(#papilla)"/>
<circle cx="299.4" cy="252.3" r="1.3" fill="#fbeec8"/>
<circle cx="305.9" cy="245.7" r="4" fill="url(#papilla)"/>
<circle cx="307.9" cy="243.7" r="1.3" fill="#fbeec8"/>
<circle cx="314.3" cy="237.0" r="4" fill="url(#papilla)"/>
<circle cx="316.3" cy="235.0" r="1.3" fill="#fbeec8"/>
<circle cx="322.8" cy="228.3" r="4" fill="url(#papilla)"/>
<circle cx="324.8" cy="226.3" r="1.3" fill="#fbeec8"/>
<circle cx="331.2" cy="219.7" r="4" fill="url(#papilla)"/>
<circle cx="333.2" cy="217.7" r="1.3" fill="#fbeec8"/>
<circle cx="339.7" cy="211.0" r="4" fill="url(#papilla)"/>
<circle cx="341.7" cy="209.0" r="1.3" fill="#fbeec8"/>
<circle cx="348.1" cy="202.3" r="4" fill="url(#papilla)"/>
<circle cx="350.1" cy="200.3" r="1.3" fill="#fbeec8"/>
<circle cx="356.6" cy="193.7" r="4" fill="url(#papilla)"/>
<circle cx="358.6" cy="191.7" r="1.3" fill="#fbeec8"/>
<circle cx="365.0" cy="185.0" r="4" fill="url(#papilla)"/>
<circle cx="367.0" cy="183.0" r="1.3" fill="#fbeec8"/>
<path d="M292.0 276.0 L289.0 266.0 M292.0 276.0 L297.0 267.0" stroke="#edc84c" stroke-width="0.8" fill="none" opacity="0.6"/>
<path d="M303.7 264.0 L300.7 254.0 M303.7 264.0 L308.7 255.0" stroke="#edc84c" stroke-width="0.8" fill="none" opacity="0.6"/>
<path d="M315.3 252.0 L312.3 242.0 M315.3 252.0 L320.3 243.0" stroke="#edc84c" stroke-width="0.8" fill="none" opacity="0.6"/>
<path d="M327.0 240.0 L324.0 230.0 M327.0 240.0 L332.0 231.0" stroke="#edc84c" stroke-width="0.8" fill="none" opacity="0.6"/>
<path d="M338.7 228.0 L335.7 218.0 M338.7 228.0 L343.7 219.0" stroke="#edc84c" stroke-width="0.8" fill="none" opacity="0.6"/>
<path d="M350.3 216.0 L347.3 206.0 M350.3 216.0 L355.3 207.0" stroke="#edc84c" stroke-width="0.8" fill="none" opacity="0.6"/>
<path d="M362.0 204.0 L359.0 194.0 M362.0 204.0 L367.0 195.0" stroke="#edc84c" stroke-width="0.8" fill="none" opacity="0.6"/>
<path d="M370 196 Q330 235 290 280" stroke="#fbf6fa" stroke-width="2" fill="none" opacity="0.8"/>
<path d="M283 254 L370 170" stroke="#f6d2a6" stroke-width="2.5"/>
<path d="M283 428 L370 340 L370 384 L283 464 Z" fill="url(#resvS)"/>
<ellipse cx="289.2" cy="444.2" rx="5" ry="4" fill="#f8d860" opacity="0.8"/>
<circle cx="294.2" cy="450.4" r="3" fill="url(#spark)"/>
<ellipse cx="301.6" cy="428.3" rx="5" ry="4" fill="#f8d860" opacity="0.8"/>
<circle cx="306.6" cy="429.1" r="3" fill="url(#spark)"/>
<ellipse cx="314.1" cy="417.1" rx="5" ry="4" fill="#f8d860" opacity="0.8"/>
<circle cx="319.1" cy="422.3" r="3" fill="url(#spark)"/>
<ellipse cx="326.5" cy="407.5" rx="5" ry="4" fill="#f8d860" opacity="0.8"/>
<circle cx="331.5" cy="400.2" r="3" fill="url(#spark)"/>
<ellipse cx="338.9" cy="392.4" rx="5" ry="4" fill="#f8d860" opacity="0.8"/>
<circle cx="343.9" cy="401.3" r="3" fill="url(#spark)"/>
<ellipse cx="351.4" cy="386.4" rx="5" ry="4" fill="#f8d860" opacity="0.8"/>
<circle cx="356.4" cy="393.7" r="3" fill="url(#spark)"/>
<ellipse cx="363.8" cy="370.4" rx="5" ry="4" fill="#f8d860" opacity="0.8"/>
<circle cx="368.8" cy="382.9" r="3" fill="url(#spark)"/>
<path d="M283 463 L370 379 L370 423 L283 507 Z" fill="url(#musS)"/>
<path d="M283 463 L370 379 L370 385 L283 470 Z" fill="#a5181d" opacity="0.7"/>
</g>
<path d="M322.0 330.0 Q316.7 310.4 314.1 290.8" stroke="#a23a44" stroke-width="1.30" fill="none" stroke-linecap="round"/><path d="M314.1 290.8 Q318.9 279.9 321.7 269.1" stroke="#a23a44" stroke-width="0.98" fill="none" stroke-linecap="round"/><path d="M321.7 269.1 Q328.2 263.5 329.6 257.8" stroke="#a23a44" stroke-width="0.73" fill="none" stroke-linecap="round"/><path d="M321.7 269.1 Q322.9 262.3 320.9 255.6" stroke="#a23a44" stroke-width="0.73" fill="none" stroke-linecap="round"/><path d="M314.1 290.8 Q305.5 278.5 298.2 266.2" stroke="#a23a44" stroke-width="0.98" fill="none" stroke-linecap="round"/><path d="M298.2 266.2 Q298.2 257.8 293.2 249.4" stroke="#a23a44" stroke-width="0.73" fill="none" stroke-linecap="round"/><path d="M298.2 266.2 Q290.2 260.2 282.2 254.1" stroke="#a23a44" stroke-width="0.73" fill="none" stroke-linecap="round"/>
<path d="M336.0 330.0 Q338.1 307.6 340.5 285.2" stroke="#64649c" stroke-width="1.30" fill="none" stroke-linecap="round"/><path d="M340.5 285.2 Q348.1 273.6 352.1 262.0" stroke="#64649c" stroke-width="0.98" fill="none" stroke-linecap="round"/><path d="M352.1 262.0 Q359.6 255.6 363.2 249.2" stroke="#64649c" stroke-width="0.73" fill="none" stroke-linecap="round"/><path d="M352.1 262.0 Q352.7 253.0 353.8 244.1" stroke="#64649c" stroke-width="0.73" fill="none" stroke-linecap="round"/><path d="M340.5 285.2 Q336.0 269.4 330.7 253.7" stroke="#64649c" stroke-width="0.98" fill="none" stroke-linecap="round"/><path d="M330.7 253.7 Q333.8 243.5 334.4 233.3" stroke="#64649c" stroke-width="0.73" fill="none" stroke-linecap="round"/><path d="M330.7 253.7 Q323.6 246.4 318.9 239.0" stroke="#64649c" stroke-width="0.73" fill="none" stroke-linecap="round"/>
<path d="M271 447 C300 420 330 390 355 364 C365 354 372 346 380 337" stroke="#3f6fc6" stroke-width="4" fill="none" stroke-linecap="round"/>
<path d="M274 451 C303 424 333 394 358 368 C368 358 375 350 383 341" stroke="#d42626" stroke-width="4" fill="none" stroke-linecap="round"/>
<path d="M16 435 C70 434 130 432 175 434 C210 437 240 440 270 437 C285 435 300 433 311 433" stroke="#3f6fc6" stroke-width="5.5" fill="none" stroke-linecap="round"/>
<path d="M16 429 C70 428 130 426 175 428 C210 431 240 434 270 431.5 C285 429.5 300 427.5 311 427.5" stroke="#d42626" stroke-width="5.5" fill="none" stroke-linecap="round"/>
<polygon points="133,169 370,169 283,253 26,253" fill="#eaa65c"/>
<clipPath id="cLT"><polygon points="133,169 370,169 283,253 26,253"/></clipPath>
<g clip-path="url(#cLT)"><g filter="url(#blur4)"><g transform="matrix(1,0,-0.95,1,160.55,0)">
<rect x="183" y="192" width="117" height="37" rx="8" fill="#f1bf85" opacity="1"/>
<rect x="205" y="198" width="80" height="26" rx="8" fill="#f5cb98" opacity="0.9"/>
<rect x="120" y="178" width="57" height="72" rx="8" fill="#ecae6a" opacity="0.8"/>
<rect x="306" y="178" width="66" height="72" rx="8" fill="#ecae6a" opacity="0.8"/>
<rect x="150" y="171" width="222" height="17" rx="8" fill="#edb06c" opacity="0.8"/>
</g></g></g>
<polygon points="133,169 370,169 368,171 135,171" fill="#efb472" opacity="0.6"/>
<clipPath id="cRF"><rect x="609" y="251" width="257" height="256"/></clipPath>
<g clip-path="url(#cRF)">
<rect x="609" y="251" width="257" height="256" fill="#f8dc58"/>
<rect x="609" y="308" width="257" height="122" fill="#f7f0f2"/>
<clipPath id="cc6"><polygon points="631.0,324.0 630.9,325.3 630.6,326.4 630.1,327.4 629.4,328.3 628.6,329.1 627.6,329.8 626.4,330.3 625.1,330.7 623.7,330.9 622.0,331.0 620.3,330.9 618.9,330.7 617.6,330.3 616.4,329.8 615.4,329.1 614.6,328.3 613.9,327.4 613.4,326.4 613.1,325.3 613.0,324.0 613.1,322.7 613.4,321.6 613.9,320.6 614.6,319.7 615.4,318.9 616.4,318.2 617.6,317.7 618.9,317.3 620.3,317.1 622.0,317.0 623.7,317.1 625.1,317.3 626.4,317.7 627.6,318.2 628.6,318.9 629.4,319.7 630.1,320.6 630.6,321.6 630.9,322.7"/></clipPath><polygon points="631.0,324.0 630.9,325.3 630.6,326.4 630.1,327.4 629.4,328.3 628.6,329.1 627.6,329.8 626.4,330.3 625.1,330.7 623.7,330.9 622.0,331.0 620.3,330.9 618.9,330.7 617.6,330.3 616.4,329.8 615.4,329.1 614.6,328.3 613.9,327.4 613.4,326.4 613.1,325.3 613.0,324.0 613.1,322.7 613.4,321.6 613.9,320.6 614.6,319.7 615.4,318.9 616.4,318.2 617.6,317.7 618.9,317.3 620.3,317.1 622.0,317.0 623.7,317.1 625.1,317.3 626.4,317.7 627.6,318.2 628.6,318.9 629.4,319.7 630.1,320.6 630.6,321.6 630.9,322.7" fill="#ec9a22" stroke="#ec9a22" stroke-width="1" stroke-linejoin="round"/><g clip-path="url(#cc6)"><circle cx="612.5" cy="319.6" r="8.1" fill="url(#ball)"/><circle cx="624.7" cy="319.8" r="8.2" fill="url(#ball)"/><circle cx="638.6" cy="321.9" r="7.8" fill="url(#ball)"/><circle cx="617.6" cy="330.3" r="8.0" fill="url(#ball)"/><circle cx="628.7" cy="332.5" r="6.9" fill="url(#ball)"/></g>
<clipPath id="cc7"><polygon points="702.5,318.0 702.4,319.0 702.1,319.9 701.6,320.7 700.9,321.4 700.1,322.0 699.1,322.5 697.9,323.0 696.6,323.3 695.2,323.4 693.5,323.5 691.8,323.4 690.4,323.3 689.1,323.0 687.9,322.5 686.9,322.0 686.1,321.4 685.4,320.7 684.9,319.9 684.6,319.0 684.5,318.0 684.6,317.0 684.9,316.1 685.4,315.3 686.1,314.6 686.9,314.0 687.9,313.5 689.1,313.0 690.4,312.7 691.8,312.6 693.5,312.5 695.2,312.6 696.6,312.7 697.9,313.0 699.1,313.5 700.1,314.0 700.9,314.6 701.6,315.3 702.1,316.1 702.4,317.0"/></clipPath><polygon points="702.5,318.0 702.4,319.0 702.1,319.9 701.6,320.7 700.9,321.4 700.1,322.0 699.1,322.5 697.9,323.0 696.6,323.3 695.2,323.4 693.5,323.5 691.8,323.4 690.4,323.3 689.1,323.0 687.9,322.5 686.9,322.0 686.1,321.4 685.4,320.7 684.9,319.9 684.6,319.0 684.5,318.0 684.6,317.0 684.9,316.1 685.4,315.3 686.1,314.6 686.9,314.0 687.9,313.5 689.1,313.0 690.4,312.7 691.8,312.6 693.5,312.5 695.2,312.6 696.6,312.7 697.9,313.0 699.1,313.5 700.1,314.0 700.9,314.6 701.6,315.3 702.1,316.1 702.4,317.0" fill="#ec9a22" stroke="#ec9a22" stroke-width="1" stroke-linejoin="round"/><g clip-path="url(#cc7)"><circle cx="696.4" cy="316.8" r="7.5" fill="url(#ball)"/><circle cx="684.7" cy="317.2" r="7.2" fill="url(#ball)"/><circle cx="689.9" cy="326.2" r="6.9" fill="url(#ball)"/><circle cx="703.4" cy="328.4" r="7.9" fill="url(#ball)"/></g>
<clipPath id="cc8"><polygon points="784.0,318.0 783.9,319.0 783.6,319.9 783.0,320.7 782.2,321.4 781.3,322.0 780.2,322.5 778.9,323.0 777.4,323.3 775.9,323.4 774.0,323.5 772.1,323.4 770.6,323.3 769.1,323.0 767.8,322.5 766.7,322.0 765.8,321.4 765.0,320.7 764.4,319.9 764.1,319.0 764.0,318.0 764.1,317.0 764.4,316.1 765.0,315.3 765.8,314.6 766.7,314.0 767.8,313.5 769.1,313.0 770.6,312.7 772.1,312.6 774.0,312.5 775.9,312.6 777.4,312.7 778.9,313.0 780.2,313.5 781.3,314.0 782.2,314.6 783.0,315.3 783.6,316.1 783.9,317.0"/></clipPath><polygon points="784.0,318.0 783.9,319.0 783.6,319.9 783.0,320.7 782.2,321.4 781.3,322.0 780.2,322.5 778.9,323.0 777.4,323.3 775.9,323.4 774.0,323.5 772.1,323.4 770.6,323.3 769.1,323.0 767.8,322.5 766.7,322.0 765.8,321.4 765.0,320.7 764.4,319.9 764.1,319.0 764.0,318.0 764.1,317.0 764.4,316.1 765.0,315.3 765.8,314.6 766.7,314.0 767.8,313.5 769.1,313.0 770.6,312.7 772.1,312.6 774.0,312.5 775.9,312.6 777.4,312.7 778.9,313.0 780.2,313.5 781.3,314.0 782.2,314.6 783.0,315.3 783.6,316.1 783.9,317.0" fill="#ec9a22" stroke="#ec9a22" stroke-width="1" stroke-linejoin="round"/><g clip-path="url(#cc8)"><circle cx="790.9" cy="314.6" r="8.3" fill="url(#ball)"/><circle cx="778.2" cy="317.6" r="7.3" fill="url(#ball)"/><circle cx="764.4" cy="317.9" r="7.1" fill="url(#ball)"/><circle cx="770.9" cy="325.3" r="7.5" fill="url(#ball)"/><circle cx="784.9" cy="328.0" r="7.2" fill="url(#ball)"/></g>
<clipPath id="cc9"><polygon points="850.0,320.0 849.9,321.1 849.7,322.1 849.3,322.9 848.8,323.7 848.1,324.4 847.3,324.9 846.4,325.4 845.4,325.7 844.3,325.9 843.0,326.0 841.7,325.9 840.6,325.7 839.6,325.4 838.7,324.9 837.9,324.4 837.2,323.7 836.7,322.9 836.3,322.1 836.1,321.1 836.0,320.0 836.1,318.9 836.3,317.9 836.7,317.1 837.2,316.3 837.9,315.6 838.7,315.1 839.6,314.6 840.6,314.3 841.7,314.1 843.0,314.0 844.3,314.1 845.4,314.3 846.4,314.6 847.3,315.1 848.1,315.6 848.8,316.3 849.3,317.1 849.7,317.9 849.9,318.9"/></clipPath><polygon points="850.0,320.0 849.9,321.1 849.7,322.1 849.3,322.9 848.8,323.7 848.1,324.4 847.3,324.9 846.4,325.4 845.4,325.7 844.3,325.9 843.0,326.0 841.7,325.9 840.6,325.7 839.6,325.4 838.7,324.9 837.9,324.4 837.2,323.7 836.7,322.9 836.3,322.1 836.1,321.1 836.0,320.0 836.1,318.9 836.3,317.9 836.7,317.1 837.2,316.3 837.9,315.6 838.7,315.1 839.6,314.6 840.6,314.3 841.7,314.1 843.0,314.0 844.3,314.1 845.4,314.3 846.4,314.6 847.3,315.1 848.1,315.6 848.8,316.3 849.3,317.1 849.7,317.9 849.9,318.9" fill="#ec9a22" stroke="#ec9a22" stroke-width="1" stroke-linejoin="round"/><g clip-path="url(#cc9)"><circle cx="848.4" cy="317.7" r="7.2" fill="url(#ball)"/><circle cx="834.8" cy="318.9" r="7.4" fill="url(#ball)"/><circle cx="844.5" cy="326.6" r="7.6" fill="url(#ball)"/><circle cx="854.5" cy="329.0" r="7.7" fill="url(#ball)"/></g>
<clipPath id="cc10"><polygon points="610.9,332.0 616.1,332.0 620.0,341.0 620.0,413.0 616.9,422.0 610.1,422.0 607.0,413.0 607.0,341.0"/></clipPath><polygon points="610.9,332.0 616.1,332.0 620.0,341.0 620.0,413.0 616.9,422.0 610.1,422.0 607.0,413.0 607.0,341.0" fill="#ec9a22" stroke="#ec9a22" stroke-width="1" stroke-linejoin="round"/><g clip-path="url(#cc10)"><circle cx="621.3" cy="337.5" r="8.7" fill="url(#ball)"/><circle cx="606.0" cy="338.1" r="9.6" fill="url(#ball)"/><circle cx="612.2" cy="351.0" r="10.4" fill="url(#ball)"/><circle cx="623.0" cy="363.5" r="10.1" fill="url(#ball)"/><circle cx="606.3" cy="365.8" r="10.5" fill="url(#ball)"/><circle cx="618.6" cy="379.9" r="10.2" fill="url(#ball)"/><circle cx="622.1" cy="391.1" r="10.6" fill="url(#ball)"/><circle cx="606.4" cy="392.0" r="10.0" fill="url(#ball)"/><circle cx="612.6" cy="405.6" r="10.7" fill="url(#ball)"/><circle cx="623.4" cy="419.8" r="9.5" fill="url(#ball)"/><circle cx="605.8" cy="422.0" r="9.9" fill="url(#ball)"/></g>
<clipPath id="cc11"><polygon points="638.0,319.0 677.0,319.0 690.0,336.9 690.0,409.3 679.6,424.0 635.4,424.0 625.0,409.3 625.0,336.9"/></clipPath><polygon points="638.0,319.0 677.0,319.0 690.0,336.9 690.0,409.3 679.6,424.0 635.4,424.0 625.0,409.3 625.0,336.9" fill="#ec9a22" stroke="#ec9a22" stroke-width="1" stroke-linejoin="round"/><g clip-path="url(#cc11)"><ellipse cx="686.5" cy="324.5" rx="13.2" ry="16.4" fill="url(#ball)"/><ellipse cx="666.9" cy="325.0" rx="12.1" ry="15.1" fill="url(#ball)"/><ellipse cx="624.4" cy="325.5" rx="12.8" ry="16.0" fill="url(#ball)"/><ellipse cx="644.1" cy="326.2" rx="13.8" ry="17.3" fill="url(#ball)"/><ellipse cx="635.3" cy="347.2" rx="12.1" ry="15.1" fill="url(#ball)"/><ellipse cx="698.2" cy="348.2" rx="11.7" ry="14.7" fill="url(#ball)"/><ellipse cx="678.8" cy="348.7" rx="11.5" ry="14.4" fill="url(#ball)"/><ellipse cx="653.8" cy="350.2" rx="13.6" ry="17.0" fill="url(#ball)"/><ellipse cx="690.4" cy="369.6" rx="14.0" ry="17.5" fill="url(#ball)"/><ellipse cx="626.3" cy="370.1" rx="13.9" ry="17.3" fill="url(#ball)"/><ellipse cx="670.2" cy="370.9" rx="12.9" ry="16.1" fill="url(#ball)"/><ellipse cx="646.9" cy="373.2" rx="12.8" ry="15.9" fill="url(#ball)"/><ellipse cx="635.9" cy="393.6" rx="14.3" ry="17.9" fill="url(#ball)"/><ellipse cx="678.3" cy="395.7" rx="11.8" ry="14.7" fill="url(#ball)"/><ellipse cx="657.9" cy="395.8" rx="13.7" ry="17.1" fill="url(#ball)"/><ellipse cx="699.4" cy="396.1" rx="12.0" ry="15.0" fill="url(#ball)"/><ellipse cx="669.4" cy="416.1" rx="11.7" ry="14.6" fill="url(#ball)"/><ellipse cx="648.1" cy="417.5" rx="14.4" ry="18.0" fill="url(#ball)"/><ellipse cx="628.2" cy="417.6" rx="12.5" ry="15.6" fill="url(#ball)"/><ellipse cx="692.4" cy="420.0" rx="12.9" ry="16.1" fill="url(#ball)"/></g>
<clipPath id="cc12"><polygon points="711.6,311.0 755.4,311.0 770.0,330.2 770.0,408.2 758.3,424.0 708.7,424.0 697.0,408.2 697.0,330.2"/></clipPath><polygon points="711.6,311.0 755.4,311.0 770.0,330.2 770.0,408.2 758.3,424.0 708.7,424.0 697.0,408.2 697.0,330.2" fill="#ec9a22" stroke="#ec9a22" stroke-width="1" stroke-linejoin="round"/><g clip-path="url(#cc12)"><ellipse cx="697.4" cy="315.1" rx="14.4" ry="18.0" fill="url(#ball)"/><ellipse cx="719.2" cy="315.5" rx="13.4" ry="16.7" fill="url(#ball)"/><ellipse cx="765.5" cy="316.3" rx="13.2" ry="16.5" fill="url(#ball)"/><ellipse cx="741.4" cy="318.6" rx="12.1" ry="15.1" fill="url(#ball)"/><ellipse cx="752.0" cy="339.0" rx="13.9" ry="17.4" fill="url(#ball)"/><ellipse cx="729.3" cy="341.8" rx="13.2" ry="16.5" fill="url(#ball)"/><ellipse cx="710.3" cy="341.9" rx="13.5" ry="16.9" fill="url(#ball)"/><ellipse cx="774.7" cy="342.0" rx="13.7" ry="17.2" fill="url(#ball)"/><ellipse cx="699.1" cy="364.3" rx="13.2" ry="16.5" fill="url(#ball)"/><ellipse cx="762.2" cy="364.8" rx="13.4" ry="16.8" fill="url(#ball)"/><ellipse cx="743.2" cy="365.3" rx="13.4" ry="16.7" fill="url(#ball)"/><ellipse cx="719.5" cy="365.3" rx="12.3" ry="15.4" fill="url(#ball)"/><ellipse cx="770.6" cy="386.2" rx="13.1" ry="16.4" fill="url(#ball)"/><ellipse cx="729.8" cy="386.8" rx="13.0" ry="16.2" fill="url(#ball)"/><ellipse cx="704.7" cy="386.9" rx="11.5" ry="14.4" fill="url(#ball)"/><ellipse cx="749.4" cy="387.4" rx="14.1" ry="17.7" fill="url(#ball)"/><ellipse cx="741.4" cy="409.4" rx="12.7" ry="15.9" fill="url(#ball)"/><ellipse cx="718.5" cy="410.1" rx="11.7" ry="14.6" fill="url(#ball)"/><ellipse cx="696.6" cy="410.2" rx="12.7" ry="15.9" fill="url(#ball)"/><ellipse cx="760.6" cy="411.7" rx="14.3" ry="17.8" fill="url(#ball)"/><ellipse cx="707.5" cy="431.6" rx="14.1" ry="17.6" fill="url(#ball)"/><ellipse cx="750.4" cy="432.7" rx="12.0" ry="15.0" fill="url(#ball)"/><ellipse cx="770.8" cy="433.4" rx="13.8" ry="17.2" fill="url(#ball)"/><ellipse cx="728.1" cy="433.4" rx="12.4" ry="15.6" fill="url(#ball)"/></g>
<clipPath id="cc13"><polygon points="792.6,315.0 834.9,315.0 849.0,333.5 849.0,408.7 837.7,424.0 789.8,424.0 778.5,408.7 778.5,333.5"/></clipPath><polygon points="792.6,315.0 834.9,315.0 849.0,333.5 849.0,408.7 837.7,424.0 789.8,424.0 778.5,408.7 778.5,333.5" fill="#ec9a22" stroke="#ec9a22" stroke-width="1" stroke-linejoin="round"/><g clip-path="url(#cc13)"><ellipse cx="821.9" cy="319.8" rx="12.7" ry="15.9" fill="url(#ball)"/><ellipse cx="802.2" cy="320.7" rx="13.0" ry="16.2" fill="url(#ball)"/><ellipse cx="843.9" cy="320.8" rx="11.5" ry="14.3" fill="url(#ball)"/><ellipse cx="782.0" cy="322.6" rx="11.7" ry="14.6" fill="url(#ball)"/><ellipse cx="810.2" cy="343.7" rx="11.6" ry="14.5" fill="url(#ball)"/><ellipse cx="788.5" cy="343.9" rx="12.9" ry="16.2" fill="url(#ball)"/><ellipse cx="832.0" cy="344.6" rx="13.4" ry="16.7" fill="url(#ball)"/><ellipse cx="852.9" cy="346.1" rx="12.5" ry="15.6" fill="url(#ball)"/><ellipse cx="800.4" cy="365.8" rx="12.8" ry="16.0" fill="url(#ball)"/><ellipse cx="844.9" cy="366.2" rx="11.9" ry="14.9" fill="url(#ball)"/><ellipse cx="779.0" cy="367.8" rx="13.4" ry="16.7" fill="url(#ball)"/><ellipse cx="823.6" cy="367.9" rx="12.7" ry="15.9" fill="url(#ball)"/><ellipse cx="808.6" cy="388.9" rx="12.2" ry="15.3" fill="url(#ball)"/><ellipse cx="789.9" cy="389.5" rx="11.7" ry="14.7" fill="url(#ball)"/><ellipse cx="852.9" cy="389.9" rx="12.3" ry="15.4" fill="url(#ball)"/><ellipse cx="832.1" cy="392.0" rx="12.4" ry="15.5" fill="url(#ball)"/><ellipse cx="779.8" cy="413.0" rx="11.7" ry="14.7" fill="url(#ball)"/><ellipse cx="821.8" cy="414.2" rx="14.2" ry="17.7" fill="url(#ball)"/><ellipse cx="802.3" cy="414.8" rx="13.9" ry="17.4" fill="url(#ball)"/><ellipse cx="844.8" cy="415.8" rx="11.9" ry="14.9" fill="url(#ball)"/><ellipse cx="789.4" cy="436.9" rx="11.5" ry="14.3" fill="url(#ball)"/><ellipse cx="814.0" cy="438.0" rx="14.3" ry="17.9" fill="url(#ball)"/><ellipse cx="858.0" cy="438.2" rx="12.4" ry="15.5" fill="url(#ball)"/><ellipse cx="835.6" cy="439.0" rx="13.0" ry="16.3" fill="url(#ball)"/></g>
<clipPath id="cc14"><polygon points="913.0,351.0 912.7,363.9 911.8,373.9 910.2,382.9 908.1,391.0 905.5,398.2 902.3,404.5 898.5,409.8 894.3,414.2 889.4,417.5 883.0,420.0 876.6,421.3 871.7,420.9 867.5,419.2 863.7,416.1 860.5,411.7 857.9,406.1 855.8,399.2 854.2,391.2 853.3,381.7 853.0,369.0 853.3,356.1 854.2,346.1 855.8,337.1 857.9,329.0 860.5,321.8 863.7,315.5 867.5,310.2 871.7,305.8 876.6,302.5 883.0,300.0 889.4,298.7 894.3,299.1 898.5,300.8 902.3,303.9 905.5,308.3 908.1,313.9 910.2,320.8 911.8,328.8 912.7,338.3"/></clipPath><polygon points="913.0,351.0 912.7,363.9 911.8,373.9 910.2,382.9 908.1,391.0 905.5,398.2 902.3,404.5 898.5,409.8 894.3,414.2 889.4,417.5 883.0,420.0 876.6,421.3 871.7,420.9 867.5,419.2 863.7,416.1 860.5,411.7 857.9,406.1 855.8,399.2 854.2,391.2 853.3,381.7 853.0,369.0 853.3,356.1 854.2,346.1 855.8,337.1 857.9,329.0 860.5,321.8 863.7,315.5 867.5,310.2 871.7,305.8 876.6,302.5 883.0,300.0 889.4,298.7 894.3,299.1 898.5,300.8 902.3,303.9 905.5,308.3 908.1,313.9 910.2,320.8 911.8,328.8 912.7,338.3" fill="#ec9a22" stroke="#ec9a22" stroke-width="1" stroke-linejoin="round"/><g clip-path="url(#cc14)"><ellipse cx="892.7" cy="302.6" rx="11.8" ry="14.2" fill="url(#ball)"/><ellipse cx="855.2" cy="302.7" rx="12.6" ry="15.1" fill="url(#ball)"/><ellipse cx="871.5" cy="304.6" rx="10.2" ry="12.3" fill="url(#ball)"/><ellipse cx="911.4" cy="305.0" rx="11.1" ry="13.4" fill="url(#ball)"/><ellipse cx="865.9" cy="321.9" rx="11.3" ry="13.6" fill="url(#ball)"/><ellipse cx="884.6" cy="324.4" rx="11.1" ry="13.4" fill="url(#ball)"/><ellipse cx="921.7" cy="324.9" rx="10.4" ry="12.5" fill="url(#ball)"/><ellipse cx="900.9" cy="325.3" rx="10.2" ry="12.2" fill="url(#ball)"/><ellipse cx="891.7" cy="341.3" rx="10.2" ry="12.3" fill="url(#ball)"/><ellipse cx="851.5" cy="343.2" rx="10.9" ry="13.1" fill="url(#ball)"/><ellipse cx="909.7" cy="344.2" rx="12.1" ry="14.6" fill="url(#ball)"/><ellipse cx="872.8" cy="344.7" rx="10.8" ry="13.0" fill="url(#ball)"/><ellipse cx="885.0" cy="360.9" rx="11.3" ry="13.5" fill="url(#ball)"/><ellipse cx="900.8" cy="361.1" rx="11.2" ry="13.5" fill="url(#ball)"/><ellipse cx="865.9" cy="361.6" rx="11.9" ry="14.3" fill="url(#ball)"/><ellipse cx="921.8" cy="364.4" rx="10.3" ry="12.4" fill="url(#ball)"/><ellipse cx="910.9" cy="381.7" rx="11.2" ry="13.4" fill="url(#ball)"/><ellipse cx="870.9" cy="382.6" rx="10.7" ry="12.8" fill="url(#ball)"/><ellipse cx="891.4" cy="382.7" rx="11.0" ry="13.2" fill="url(#ball)"/><ellipse cx="855.0" cy="383.1" rx="11.4" ry="13.6" fill="url(#ball)"/><ellipse cx="901.1" cy="399.8" rx="11.2" ry="13.4" fill="url(#ball)"/><ellipse cx="862.8" cy="400.3" rx="11.5" ry="13.8" fill="url(#ball)"/><ellipse cx="919.7" cy="401.4" rx="12.0" ry="14.4" fill="url(#ball)"/><ellipse cx="882.4" cy="403.1" rx="10.6" ry="12.8" fill="url(#ball)"/><ellipse cx="888.5" cy="420.0" rx="10.8" ry="12.9" fill="url(#ball)"/><ellipse cx="907.0" cy="420.5" rx="12.4" ry="14.8" fill="url(#ball)"/><ellipse cx="870.2" cy="421.4" rx="11.1" ry="13.3" fill="url(#ball)"/><ellipse cx="853.1" cy="422.0" rx="12.1" ry="14.5" fill="url(#ball)"/></g>
<path d="M609 270 L866 270 L866 311 C800 313 700 312 609 313 Z" fill="url(#lav)"/>
<path d="M609 313 C700 312 800 313 866 311" stroke="#dac8da" stroke-width="2.2" fill="none"/>
<path d="M828.3 301.5 q23.2 -2 46.3 0.1" stroke="#fcf8fb" stroke-width="1.6" fill="none" opacity="0.85"/>
<path d="M783.3 308.8 q22.0 -2 43.9 -1.1" stroke="#fcf8fb" stroke-width="1.6" fill="none" opacity="0.85"/>
<path d="M694.1 293.2 q27.0 -2 53.9 2.0" stroke="#fcf8fb" stroke-width="1.6" fill="none" opacity="0.85"/>
<path d="M656.0 304.9 q17.2 -2 34.5 1.7" stroke="#fcf8fb" stroke-width="1.6" fill="none" opacity="0.85"/>
<path d="M735.4 298.5 q13.2 -2 26.4 -1.4" stroke="#fcf8fb" stroke-width="1.6" fill="none" opacity="0.85"/>
<path d="M813.7 295.2 q26.3 -2 52.7 0.2" stroke="#fcf8fb" stroke-width="1.6" fill="none" opacity="0.85"/>
<path d="M709.8 304.1 q15.3 -2 30.7 0.7" stroke="#fcf8fb" stroke-width="1.6" fill="none" opacity="0.85"/>
<path d="M623.4 295.6 q27.7 -2 55.4 -1.2" stroke="#fcf8fb" stroke-width="1.6" fill="none" opacity="0.85"/>
<path d="M639.7 300.4 q26.9 -2 53.8 -2.0" stroke="#fcf8fb" stroke-width="1.6" fill="none" opacity="0.85"/>
<path d="M762.1 301.9 q12.5 -2 25.0 0.3" stroke="#fcf8fb" stroke-width="1.6" fill="none" opacity="0.85"/>
<path d="M609.2 301.4 q26.2 -2 52.5 -0.5" stroke="#fcf8fb" stroke-width="1.6" fill="none" opacity="0.85"/>
<path d="M690.6 305.5 q16.9 -2 33.7 -0.1" stroke="#fcf8fb" stroke-width="1.6" fill="none" opacity="0.85"/>
<path d="M722.3 292.7 q32.7 -2 65.5 -1.3" stroke="#fcf8fb" stroke-width="1.6" fill="none" opacity="0.85"/>
<path d="M788.6 299.9 q12.7 -2 25.4 -0.8" stroke="#fcf8fb" stroke-width="1.6" fill="none" opacity="0.85"/>
<path d="M741.3 299.8 q33.0 -2 66.0 -1.9" stroke="#fcf8fb" stroke-width="1.6" fill="none" opacity="0.85"/>
<path d="M797.3 306.7 q16.2 -2 32.3 0.0" stroke="#fcf8fb" stroke-width="1.6" fill="none" opacity="0.85"/>
<path d="M620.2 301.8 q28.1 -2 56.2 -0.8" stroke="#fcf8fb" stroke-width="1.6" fill="none" opacity="0.85"/>
<path d="M787.4 296.1 q13.8 -2 27.6 -0.1" stroke="#fcf8fb" stroke-width="1.6" fill="none" opacity="0.85"/>
<path d="M609 253 L866 253 L866 279 C858 280 845 279 830 282 C815 285 800 291 788 290 C770 289 760 282 745 280 C730 278 722 277 712 279 C700 282 692 291 680 291 C668 291 655 278 640 276 C628 276 618 283 609 288 Z" fill="#e9b6a9"/>
<circle cx="615.0" cy="261.8" r="5.4" fill="url(#papilla)"/><circle cx="629.4" cy="264.8" r="6.0" fill="url(#papilla)"/><circle cx="646.3" cy="262.1" r="5.7" fill="url(#papilla)"/><circle cx="663.4" cy="264.2" r="6.3" fill="url(#papilla)"/><circle cx="680.2" cy="262.7" r="5.8" fill="url(#papilla)"/><circle cx="694.5" cy="263.3" r="6.2" fill="url(#papilla)"/><circle cx="708.9" cy="262.3" r="6.0" fill="url(#papilla)"/><circle cx="722.8" cy="264.6" r="5.1" fill="url(#papilla)"/><circle cx="740.6" cy="262.7" r="5.4" fill="url(#papilla)"/><circle cx="757.7" cy="264.5" r="5.3" fill="url(#papilla)"/><circle cx="774.5" cy="261.2" r="6.5" fill="url(#papilla)"/><circle cx="791.4" cy="265.0" r="5.2" fill="url(#papilla)"/><circle cx="806.5" cy="262.2" r="6.0" fill="url(#papilla)"/><circle cx="821.0" cy="264.8" r="6.4" fill="url(#papilla)"/><circle cx="836.0" cy="261.3" r="6.1" fill="url(#papilla)"/><circle cx="851.6" cy="264.3" r="5.8" fill="url(#papilla)"/><circle cx="867.1" cy="261.0" r="5.3" fill="url(#papilla)"/>
<circle cx="625.0" cy="272.5" r="4.8" fill="url(#papilla)"/><circle cx="648.6" cy="275.1" r="5.4" fill="url(#papilla)"/><circle cx="671.6" cy="271.6" r="4.4" fill="url(#papilla)"/><circle cx="690.8" cy="274.1" r="5.3" fill="url(#papilla)"/><circle cx="715.2" cy="272.5" r="4.4" fill="url(#papilla)"/><circle cx="738.3" cy="274.3" r="5.4" fill="url(#papilla)"/><circle cx="761.3" cy="272.5" r="5.0" fill="url(#papilla)"/><circle cx="782.8" cy="275.7" r="5.5" fill="url(#papilla)"/><circle cx="803.1" cy="271.9" r="5.2" fill="url(#papilla)"/><circle cx="826.3" cy="274.8" r="4.8" fill="url(#papilla)"/><circle cx="851.4" cy="271.6" r="4.5" fill="url(#papilla)"/><circle cx="874.6" cy="274.6" r="5.4" fill="url(#papilla)"/>
<path d="M680 295 L680 285" stroke="#edc84c" stroke-width="1.3" fill="none"/><path d="M680 285 Q662.0 279.0 640.0 262.8" stroke="#edc84c" stroke-width="0.9" fill="none"/><path d="M658.0 273.9 L653.0 267.9" stroke="#edc84c" stroke-width="0.7" fill="none"/><circle cx="653.0" cy="267.9" r="1.4" fill="#fbeec8"/><path d="M658.0 273.9 L663.0 267.9" stroke="#edc84c" stroke-width="0.7" fill="none"/><circle cx="663.0" cy="267.9" r="1.4" fill="#fbeec8"/><circle cx="640.0" cy="262.8" r="1.8" fill="#fbeec8"/><path d="M680 285 Q671.0 279.0 660.0 259.6" stroke="#edc84c" stroke-width="0.9" fill="none"/><path d="M669.0 272.3 L664.0 266.3" stroke="#edc84c" stroke-width="0.7" fill="none"/><circle cx="664.0" cy="266.3" r="1.4" fill="#fbeec8"/><path d="M669.0 272.3 L674.0 266.3" stroke="#edc84c" stroke-width="0.7" fill="none"/><circle cx="674.0" cy="266.3" r="1.4" fill="#fbeec8"/><circle cx="660.0" cy="259.6" r="1.8" fill="#fbeec8"/><path d="M680 285 Q680.0 279.0 680.0 259.7" stroke="#edc84c" stroke-width="0.9" fill="none"/><path d="M680.0 272.3 L675.0 266.3" stroke="#edc84c" stroke-width="0.7" fill="none"/><circle cx="675.0" cy="266.3" r="1.4" fill="#fbeec8"/><path d="M680.0 272.3 L685.0 266.3" stroke="#edc84c" stroke-width="0.7" fill="none"/><circle cx="685.0" cy="266.3" r="1.4" fill="#fbeec8"/><circle cx="680.0" cy="259.7" r="1.8" fill="#fbeec8"/><path d="M680 285 Q689.0 279.0 700.0 260.8" stroke="#edc84c" stroke-width="0.9" fill="none"/><path d="M691.0 272.9 L686.0 266.9" stroke="#edc84c" stroke-width="0.7" fill="none"/><circle cx="686.0" cy="266.9" r="1.4" fill="#fbeec8"/><path d="M691.0 272.9 L696.0 266.9" stroke="#edc84c" stroke-width="0.7" fill="none"/><circle cx="696.0" cy="266.9" r="1.4" fill="#fbeec8"/><circle cx="700.0" cy="260.8" r="1.8" fill="#fbeec8"/><path d="M680 285 Q698.0 279.0 720.0 262.2" stroke="#edc84c" stroke-width="0.9" fill="none"/><path d="M702.0 273.6 L697.0 267.6" stroke="#edc84c" stroke-width="0.7" fill="none"/><circle cx="697.0" cy="267.6" r="1.4" fill="#fbeec8"/><path d="M702.0 273.6 L707.0 267.6" stroke="#edc84c" stroke-width="0.7" fill="none"/><circle cx="707.0" cy="267.6" r="1.4" fill="#fbeec8"/><circle cx="720.0" cy="262.2" r="1.8" fill="#fbeec8"/>
<path d="M680 294 Q677 303 679 312" stroke="#eed070" stroke-width="1" stroke-dasharray="2 1.5" fill="none"/>
<path d="M788 294 L788 284" stroke="#edc84c" stroke-width="1.3" fill="none"/><path d="M788 284 Q768.2 278.0 744.0 260.6" stroke="#edc84c" stroke-width="0.9" fill="none"/><path d="M764.0 272.3 L759.0 266.3" stroke="#edc84c" stroke-width="0.7" fill="none"/><circle cx="759.0" cy="266.3" r="1.4" fill="#fbeec8"/><path d="M764.0 272.3 L769.0 266.3" stroke="#edc84c" stroke-width="0.7" fill="none"/><circle cx="769.0" cy="266.3" r="1.4" fill="#fbeec8"/><circle cx="744.0" cy="260.6" r="1.8" fill="#fbeec8"/><path d="M788 284 Q776.1 278.0 761.6 259.3" stroke="#edc84c" stroke-width="0.9" fill="none"/><path d="M773.6 271.6 L768.6 265.6" stroke="#edc84c" stroke-width="0.7" fill="none"/><circle cx="768.6" cy="265.6" r="1.4" fill="#fbeec8"/><path d="M773.6 271.6 L778.6 265.6" stroke="#edc84c" stroke-width="0.7" fill="none"/><circle cx="778.6" cy="265.6" r="1.4" fill="#fbeec8"/><circle cx="761.6" cy="259.3" r="1.8" fill="#fbeec8"/><path d="M788 284 Q784.0 278.0 779.2 257.7" stroke="#edc84c" stroke-width="0.9" fill="none"/><path d="M783.2 270.8 L778.2 264.8" stroke="#edc84c" stroke-width="0.7" fill="none"/><circle cx="778.2" cy="264.8" r="1.4" fill="#fbeec8"/><path d="M783.2 270.8 L788.2 264.8" stroke="#edc84c" stroke-width="0.7" fill="none"/><circle cx="788.2" cy="264.8" r="1.4" fill="#fbeec8"/><circle cx="779.2" cy="257.7" r="1.8" fill="#fbeec8"/><path d="M788 284 Q792.0 278.0 796.8 258.1" stroke="#edc84c" stroke-width="0.9" fill="none"/><path d="M792.8 271.1 L787.8 265.1" stroke="#edc84c" stroke-width="0.7" fill="none"/><circle cx="787.8" cy="265.1" r="1.4" fill="#fbeec8"/><path d="M792.8 271.1 L797.8 265.1" stroke="#edc84c" stroke-width="0.7" fill="none"/><circle cx="797.8" cy="265.1" r="1.4" fill="#fbeec8"/><circle cx="796.8" cy="258.1" r="1.8" fill="#fbeec8"/><path d="M788 284 Q799.9 278.0 814.4 260.8" stroke="#edc84c" stroke-width="0.9" fill="none"/><path d="M802.4 272.4 L797.4 266.4" stroke="#edc84c" stroke-width="0.7" fill="none"/><circle cx="797.4" cy="266.4" r="1.4" fill="#fbeec8"/><path d="M802.4 272.4 L807.4 266.4" stroke="#edc84c" stroke-width="0.7" fill="none"/><circle cx="807.4" cy="266.4" r="1.4" fill="#fbeec8"/><circle cx="814.4" cy="260.8" r="1.8" fill="#fbeec8"/><path d="M788 284 Q807.8 278.0 832.0 260.2" stroke="#edc84c" stroke-width="0.9" fill="none"/><path d="M812.0 272.1 L807.0 266.1" stroke="#edc84c" stroke-width="0.7" fill="none"/><circle cx="807.0" cy="266.1" r="1.4" fill="#fbeec8"/><path d="M812.0 272.1 L817.0 266.1" stroke="#edc84c" stroke-width="0.7" fill="none"/><circle cx="817.0" cy="266.1" r="1.4" fill="#fbeec8"/><circle cx="832.0" cy="260.2" r="1.8" fill="#fbeec8"/>
<path d="M788 293 Q785 302 787 312" stroke="#eed070" stroke-width="1" stroke-dasharray="2 1.5" fill="none"/>
<rect x="609" y="251" width="257" height="2.5" fill="#f6d2a6"/>
<path d="M650.0 430.0 Q651.6 392.7 657.5 355.4" stroke="#64649c" stroke-width="1.05" fill="none" stroke-linecap="round"/><path d="M657.5 355.4 Q668.7 334.4 675.9 313.4" stroke="#64649c" stroke-width="0.79" fill="none" stroke-linecap="round"/><path d="M675.9 313.4 Q685.5 302.5 699.0 291.6" stroke="#64649c" stroke-width="0.59" fill="none" stroke-linecap="round"/><path d="M675.9 313.4 Q672.0 299.2 673.0 285.0" stroke="#64649c" stroke-width="0.59" fill="none" stroke-linecap="round"/><path d="M657.5 355.4 Q649.2 330.6 636.4 305.9" stroke="#64649c" stroke-width="0.79" fill="none" stroke-linecap="round"/><path d="M636.4 305.9 Q633.1 290.7 633.6 275.5" stroke="#64649c" stroke-width="0.59" fill="none" stroke-linecap="round"/><path d="M636.4 305.9 Q626.4 294.1 617.8 282.3" stroke="#64649c" stroke-width="0.59" fill="none" stroke-linecap="round"/>
<path d="M744.0 430.0 Q742.3 392.5 740.3 355.1" stroke="#a23a44" stroke-width="1.05" fill="none" stroke-linecap="round"/><path d="M740.3 355.1 Q752.1 330.0 760.0 305.0" stroke="#a23a44" stroke-width="0.79" fill="none" stroke-linecap="round"/><path d="M760.0 305.0 Q775.3 294.4 786.1 283.8" stroke="#a23a44" stroke-width="0.59" fill="none" stroke-linecap="round"/><path d="M760.0 305.0 Q761.9 288.7 762.6 272.5" stroke="#a23a44" stroke-width="0.59" fill="none" stroke-linecap="round"/><path d="M740.3 355.1 Q732.8 332.1 722.0 309.0" stroke="#a23a44" stroke-width="0.79" fill="none" stroke-linecap="round"/><path d="M722.0 309.0 Q724.5 290.9 726.2 272.8" stroke="#a23a44" stroke-width="0.59" fill="none" stroke-linecap="round"/><path d="M722.0 309.0 Q710.6 297.3 698.5 285.6" stroke="#a23a44" stroke-width="0.59" fill="none" stroke-linecap="round"/>
<path d="M800.0 430.0 Q796.5 392.7 792.5 355.4" stroke="#a23a44" stroke-width="1.05" fill="none" stroke-linecap="round"/><path d="M792.5 355.4 Q803.9 331.0 811.7 306.6" stroke="#a23a44" stroke-width="0.79" fill="none" stroke-linecap="round"/><path d="M811.7 306.6 Q824.8 291.8 837.2 277.0" stroke="#a23a44" stroke-width="0.59" fill="none" stroke-linecap="round"/><path d="M811.7 306.6 Q812.4 288.4 812.3 270.2" stroke="#a23a44" stroke-width="0.59" fill="none" stroke-linecap="round"/><path d="M792.5 355.4 Q777.6 335.6 767.4 315.8" stroke="#a23a44" stroke-width="0.79" fill="none" stroke-linecap="round"/><path d="M767.4 315.8 Q764.5 302.8 764.4 289.7" stroke="#a23a44" stroke-width="0.59" fill="none" stroke-linecap="round"/><path d="M767.4 315.8 Q754.0 309.5 744.1 303.1" stroke="#a23a44" stroke-width="0.59" fill="none" stroke-linecap="round"/>
<path d="M834.0 430.0 Q828.7 392.8 825.0 355.5" stroke="#64649c" stroke-width="1.05" fill="none" stroke-linecap="round"/><path d="M825.0 355.5 Q838.6 330.2 848.0 304.8" stroke="#64649c" stroke-width="0.79" fill="none" stroke-linecap="round"/><path d="M848.0 304.8 Q861.4 292.5 879.9 280.2" stroke="#64649c" stroke-width="0.59" fill="none" stroke-linecap="round"/><path d="M848.0 304.8 Q848.5 286.5 848.2 268.2" stroke="#64649c" stroke-width="0.59" fill="none" stroke-linecap="round"/><path d="M825.0 355.5 Q809.1 336.6 797.0 317.6" stroke="#64649c" stroke-width="0.79" fill="none" stroke-linecap="round"/><path d="M797.0 317.6 Q793.2 301.5 789.2 285.4" stroke="#64649c" stroke-width="0.59" fill="none" stroke-linecap="round"/><path d="M797.0 317.6 Q783.7 308.3 771.6 299.0" stroke="#64649c" stroke-width="0.59" fill="none" stroke-linecap="round"/>
<rect x="609" y="437" width="257" height="27" fill="url(#resv)"/><ellipse cx="623.0" cy="454.5" rx="12" ry="8" fill="url(#blob)" opacity="0.7"/><ellipse cx="656.7" cy="454.4" rx="12" ry="8" fill="url(#blob)" opacity="0.7"/><ellipse cx="686.0" cy="449.3" rx="11" ry="7" fill="url(#blob)" opacity="0.7"/><ellipse cx="724.1" cy="455.7" rx="11" ry="7" fill="url(#blob)" opacity="0.7"/><ellipse cx="760.4" cy="451.7" rx="11" ry="7" fill="url(#blob)" opacity="0.7"/><ellipse cx="791.1" cy="450.5" rx="13" ry="9" fill="url(#blob)" opacity="0.7"/><ellipse cx="821.0" cy="454.7" rx="10" ry="6" fill="url(#blob)" opacity="0.7"/><ellipse cx="847.4" cy="447.3" rx="13" ry="9" fill="url(#blob)" opacity="0.7"/><circle cx="847.9" cy="447.9" r="3.6" fill="url(#spark)" opacity="0.8"/><circle cx="724.8" cy="455.5" r="4.7" fill="url(#spark)" opacity="0.8"/><circle cx="774.5" cy="455.0" r="3.1" fill="url(#spark)" opacity="0.8"/><circle cx="851.1" cy="444.9" r="3.0" fill="url(#spark)" opacity="0.8"/><circle cx="628.1" cy="443.8" r="4.6" fill="url(#spark)" opacity="0.8"/><circle cx="796.3" cy="455.5" r="3.2" fill="url(#spark)" opacity="0.8"/><circle cx="749.8" cy="458.1" r="4.9" fill="url(#spark)" opacity="0.8"/><circle cx="783.2" cy="457.8" r="4.8" fill="url(#spark)" opacity="0.8"/><circle cx="856.5" cy="448.3" r="4.0" fill="url(#spark)" opacity="0.8"/><circle cx="854.6" cy="455.2" r="4.2" fill="url(#spark)" opacity="0.8"/><circle cx="859.5" cy="450.4" r="4.0" fill="url(#spark)" opacity="0.8"/><circle cx="722.5" cy="442.2" r="3.9" fill="url(#spark)" opacity="0.8"/>
<rect x="609" y="463" width="257" height="44" fill="url(#mus)"/>
<rect x="609" y="463" width="257" height="7" fill="#901b1f"/>
<ellipse cx="668" cy="488" rx="36" ry="6" fill="#b01c22" opacity="0.5" filter="url(#blur2)"/>
<ellipse cx="778" cy="490" rx="36" ry="6" fill="#b01c22" opacity="0.5" filter="url(#blur2)"/>
</g>
<polygon points="866,251 953,169 953,426 866,507" fill="#f8dc58"/>
<clipPath id="cRS"><polygon points="866,251 953,169 953,426 866,507"/></clipPath>
<g clip-path="url(#cRS)">
<path d="M866 305 L953 245 L953 365 L866 445 Z" fill="#f8dc5c"/>
<circle cx="942.8" cy="300.1" r="5.1" fill="#fbe47a" opacity="0.8"/>
<circle cx="897.0" cy="288.0" r="4.7" fill="#fbe47a" opacity="0.8"/>
<circle cx="882.2" cy="302.5" r="4.3" fill="#fbe47a" opacity="0.8"/>
<circle cx="870.7" cy="373.2" r="4.2" fill="#fbe47a" opacity="0.8"/>
<circle cx="919.0" cy="303.8" r="5.8" fill="#fbe47a" opacity="0.8"/>
<circle cx="921.8" cy="357.7" r="5.3" fill="#fbe47a" opacity="0.8"/>
<circle cx="929.7" cy="374.6" r="6.0" fill="#fbe47a" opacity="0.8"/>
<circle cx="881.3" cy="327.7" r="4.6" fill="#fbe47a" opacity="0.8"/>
<circle cx="885.4" cy="390.0" r="5.8" fill="#fbe47a" opacity="0.8"/>
<circle cx="873.2" cy="317.0" r="5.8" fill="#fbe47a" opacity="0.8"/>
<path d="M905 288 Q916 296 915 310 L915 370 Q915 385 906 396 L924 384 Q920 374 920 362 L920 300 Q921 284 932 272 Z" fill="#f7f1f4"/>
<path d="M942 258 Q951 266 950 280 L950 330 Q950 340 946 348 L953 346 L953 255 Z" fill="#f7f1f4"/>
<clipPath id="cc15"><polygon points="913.0,351.0 912.7,363.9 911.8,373.9 910.2,382.9 908.1,391.0 905.5,398.2 902.3,404.5 898.5,409.8 894.3,414.2 889.4,417.5 883.0,420.0 876.6,421.3 871.7,420.9 867.5,419.2 863.7,416.1 860.5,411.7 857.9,406.1 855.8,399.2 854.2,391.2 853.3,381.7 853.0,369.0 853.3,356.1 854.2,346.1 855.8,337.1 857.9,329.0 860.5,321.8 863.7,315.5 867.5,310.2 871.7,305.8 876.6,302.5 883.0,300.0 889.4,298.7 894.3,299.1 898.5,300.8 902.3,303.9 905.5,308.3 908.1,313.9 910.2,320.8 911.8,328.8 912.7,338.3"/></clipPath><polygon points="913.0,351.0 912.7,363.9 911.8,373.9 910.2,382.9 908.1,391.0 905.5,398.2 902.3,404.5 898.5,409.8 894.3,414.2 889.4,417.5 883.0,420.0 876.6,421.3 871.7,420.9 867.5,419.2 863.7,416.1 860.5,411.7 857.9,406.1 855.8,399.2 854.2,391.2 853.3,381.7 853.0,369.0 853.3,356.1 854.2,346.1 855.8,337.1 857.9,329.0 860.5,321.8 863.7,315.5 867.5,310.2 871.7,305.8 876.6,302.5 883.0,300.0 889.4,298.7 894.3,299.1 898.5,300.8 902.3,303.9 905.5,308.3 908.1,313.9 910.2,320.8 911.8,328.8 912.7,338.3" fill="#ec9a22" stroke="#ec9a22" stroke-width="1" stroke-linejoin="round"/><g clip-path="url(#cc15)"><ellipse cx="892.7" cy="302.6" rx="11.8" ry="14.2" fill="url(#ball)"/><ellipse cx="855.2" cy="302.7" rx="12.6" ry="15.1" fill="url(#ball)"/><ellipse cx="871.5" cy="304.6" rx="10.2" ry="12.3" fill="url(#ball)"/><ellipse cx="911.4" cy="305.0" rx="11.1" ry="13.4" fill="url(#ball)"/><ellipse cx="865.9" cy="321.9" rx="11.3" ry="13.6" fill="url(#ball)"/><ellipse cx="884.6" cy="324.4" rx="11.1" ry="13.4" fill="url(#ball)"/><ellipse cx="921.7" cy="324.9" rx="10.4" ry="12.5" fill="url(#ball)"/><ellipse cx="900.9" cy="325.3" rx="10.2" ry="12.2" fill="url(#ball)"/><ellipse cx="891.7" cy="341.3" rx="10.2" ry="12.3" fill="url(#ball)"/><ellipse cx="851.5" cy="343.2" rx="10.9" ry="13.1" fill="url(#ball)"/><ellipse cx="909.7" cy="344.2" rx="12.1" ry="14.6" fill="url(#ball)"/><ellipse cx="872.8" cy="344.7" rx="10.8" ry="13.0" fill="url(#ball)"/><ellipse cx="885.0" cy="360.9" rx="11.3" ry="13.5" fill="url(#ball)"/><ellipse cx="900.8" cy="361.1" rx="11.2" ry="13.5" fill="url(#ball)"/><ellipse cx="865.9" cy="361.6" rx="11.9" ry="14.3" fill="url(#ball)"/><ellipse cx="921.8" cy="364.4" rx="10.3" ry="12.4" fill="url(#ball)"/><ellipse cx="910.9" cy="381.7" rx="11.2" ry="13.4" fill="url(#ball)"/><ellipse cx="870.9" cy="382.6" rx="10.7" ry="12.8" fill="url(#ball)"/><ellipse cx="891.4" cy="382.7" rx="11.0" ry="13.2" fill="url(#ball)"/><ellipse cx="855.0" cy="383.1" rx="11.4" ry="13.6" fill="url(#ball)"/><ellipse cx="901.1" cy="399.8" rx="11.2" ry="13.4" fill="url(#ball)"/><ellipse cx="862.8" cy="400.3" rx="11.5" ry="13.8" fill="url(#ball)"/><ellipse cx="919.7" cy="401.4" rx="12.0" ry="14.4" fill="url(#ball)"/><ellipse cx="882.4" cy="403.1" rx="10.6" ry="12.8" fill="url(#ball)"/><ellipse cx="888.5" cy="420.0" rx="10.8" ry="12.9" fill="url(#ball)"/><ellipse cx="907.0" cy="420.5" rx="12.4" ry="14.8" fill="url(#ball)"/><ellipse cx="870.2" cy="421.4" rx="11.1" ry="13.3" fill="url(#ball)"/><ellipse cx="853.1" cy="422.0" rx="12.1" ry="14.5" fill="url(#ball)"/></g>
<clipPath id="cc16"><polygon points="947.0,315.8 946.8,326.5 946.4,334.8 945.6,342.1 944.6,348.7 943.2,354.5 941.6,359.5 939.8,363.7 937.6,367.0 935.2,369.4 932.0,371.0 928.8,371.6 926.4,370.9 924.2,369.1 922.4,366.3 920.8,362.4 919.4,357.5 918.4,351.7 917.6,344.8 917.2,336.9 917.0,326.3 917.2,315.5 917.6,307.2 918.4,299.9 919.4,293.3 920.8,287.5 922.4,282.5 924.2,278.3 926.4,275.0 928.8,272.6 932.0,271.0 935.2,270.4 937.6,271.1 939.8,272.9 941.6,275.7 943.2,279.6 944.6,284.5 945.6,290.3 946.4,297.2 946.8,305.1"/></clipPath><polygon points="947.0,315.8 946.8,326.5 946.4,334.8 945.6,342.1 944.6,348.7 943.2,354.5 941.6,359.5 939.8,363.7 937.6,367.0 935.2,369.4 932.0,371.0 928.8,371.6 926.4,370.9 924.2,369.1 922.4,366.3 920.8,362.4 919.4,357.5 918.4,351.7 917.6,344.8 917.2,336.9 917.0,326.3 917.2,315.5 917.6,307.2 918.4,299.9 919.4,293.3 920.8,287.5 922.4,282.5 924.2,278.3 926.4,275.0 928.8,272.6 932.0,271.0 935.2,270.4 937.6,271.1 939.8,272.9 941.6,275.7 943.2,279.6 944.6,284.5 945.6,290.3 946.4,297.2 946.8,305.1" fill="#ec9a22" stroke="#ec9a22" stroke-width="1" stroke-linejoin="round"/><g clip-path="url(#cc16)"><ellipse cx="950.7" cy="273.9" rx="9.2" ry="11.1" fill="url(#ball)"/><ellipse cx="934.2" cy="275.4" rx="8.6" ry="10.4" fill="url(#ball)"/><ellipse cx="918.2" cy="276.3" rx="9.0" ry="10.8" fill="url(#ball)"/><ellipse cx="925.2" cy="290.1" rx="10.1" ry="12.1" fill="url(#ball)"/><ellipse cx="942.3" cy="291.7" rx="10.3" ry="12.4" fill="url(#ball)"/><ellipse cx="950.4" cy="306.8" rx="9.9" ry="11.8" fill="url(#ball)"/><ellipse cx="933.6" cy="306.8" rx="10.7" ry="12.9" fill="url(#ball)"/><ellipse cx="918.8" cy="307.1" rx="9.4" ry="11.2" fill="url(#ball)"/><ellipse cx="923.5" cy="323.8" rx="9.6" ry="11.5" fill="url(#ball)"/><ellipse cx="939.2" cy="325.4" rx="9.7" ry="11.7" fill="url(#ball)"/><ellipse cx="917.0" cy="340.0" rx="8.9" ry="10.7" fill="url(#ball)"/><ellipse cx="933.0" cy="340.7" rx="9.5" ry="11.4" fill="url(#ball)"/><ellipse cx="948.1" cy="341.6" rx="9.7" ry="11.6" fill="url(#ball)"/><ellipse cx="940.5" cy="356.8" rx="9.5" ry="11.4" fill="url(#ball)"/><ellipse cx="925.0" cy="356.8" rx="10.4" ry="12.5" fill="url(#ball)"/><ellipse cx="948.9" cy="373.9" rx="8.8" ry="10.5" fill="url(#ball)"/><ellipse cx="918.8" cy="375.2" rx="9.6" ry="11.6" fill="url(#ball)"/><ellipse cx="933.3" cy="375.8" rx="9.3" ry="11.2" fill="url(#ball)"/></g>
<path d="M866 262 L953 180 L953 258 Q910 285 866 314 Z" fill="url(#lav)"/>
<path d="M866 298 L953 236" stroke="#faf5fa" stroke-width="1.3" opacity="0.9"/>
<path d="M866 304 L953 243" stroke="#faf5fa" stroke-width="1.3" opacity="0.9"/>
<path d="M866 310 L953 250" stroke="#faf5fa" stroke-width="1.3" opacity="0.9"/>
<path d="M866 251 L953 169 L953 210 Q935 224 918 240 Q895 258 866 282 Z" fill="#e9b6a9"/>
<circle cx="874.0" cy="262.0" r="5" fill="url(#papilla)"/>
<circle cx="877.0" cy="274.0" r="5" fill="url(#papilla)"/>
<circle cx="883.5" cy="252.5" r="5" fill="url(#papilla)"/>
<circle cx="886.5" cy="264.5" r="5" fill="url(#papilla)"/>
<circle cx="893.0" cy="243.0" r="5" fill="url(#papilla)"/>
<circle cx="896.0" cy="255.0" r="5" fill="url(#papilla)"/>
<circle cx="902.5" cy="233.5" r="5" fill="url(#papilla)"/>
<circle cx="905.5" cy="245.5" r="5" fill="url(#papilla)"/>
<circle cx="912.0" cy="224.0" r="5" fill="url(#papilla)"/>
<circle cx="915.0" cy="236.0" r="5" fill="url(#papilla)"/>
<circle cx="921.5" cy="214.5" r="5" fill="url(#papilla)"/>
<circle cx="924.5" cy="226.5" r="5" fill="url(#papilla)"/>
<circle cx="931.0" cy="205.0" r="5" fill="url(#papilla)"/>
<circle cx="934.0" cy="217.0" r="5" fill="url(#papilla)"/>
<circle cx="940.5" cy="195.5" r="5" fill="url(#papilla)"/>
<circle cx="943.5" cy="207.5" r="5" fill="url(#papilla)"/>
<circle cx="950.0" cy="186.0" r="5" fill="url(#papilla)"/>
<circle cx="953.0" cy="198.0" r="5" fill="url(#papilla)"/>
<path d="M878.0 286.0 L874.0 266.0 M878.0 286.0 L885.0 270.0" stroke="#edc84c" stroke-width="0.9" fill="none"/>
<path d="M892.0 272.0 L888.0 252.0 M892.0 272.0 L899.0 256.0" stroke="#edc84c" stroke-width="0.9" fill="none"/>
<path d="M906.0 258.0 L902.0 238.0 M906.0 258.0 L913.0 242.0" stroke="#edc84c" stroke-width="0.9" fill="none"/>
<path d="M920.0 244.0 L916.0 224.0 M920.0 244.0 L927.0 228.0" stroke="#edc84c" stroke-width="0.9" fill="none"/>
<path d="M934.0 230.0 L930.0 210.0 M934.0 230.0 L941.0 214.0" stroke="#edc84c" stroke-width="0.9" fill="none"/>
<path d="M948.0 216.0 L944.0 196.0 M948.0 216.0 L955.0 200.0" stroke="#edc84c" stroke-width="0.9" fill="none"/>
<path d="M866 252 L953 170" stroke="#f6d2a6" stroke-width="2.5"/>
<path d="M866 428 L953 340 L953 388 L866 464 Z" fill="url(#resvS)"/>
<ellipse cx="872.2" cy="445.6" rx="5" ry="4" fill="#f8d860" opacity="0.8"/>
<circle cx="877.2" cy="449.0" r="3" fill="url(#spark)"/>
<ellipse cx="884.6" cy="428.4" rx="5" ry="4" fill="#f8d860" opacity="0.8"/>
<circle cx="889.6" cy="438.1" r="3" fill="url(#spark)"/>
<ellipse cx="897.1" cy="414.7" rx="5" ry="4" fill="#f8d860" opacity="0.8"/>
<circle cx="902.1" cy="413.3" r="3" fill="url(#spark)"/>
<ellipse cx="909.5" cy="405.6" rx="5" ry="4" fill="#f8d860" opacity="0.8"/>
<circle cx="914.5" cy="409.7" r="3" fill="url(#spark)"/>
<ellipse cx="921.9" cy="393.6" rx="5" ry="4" fill="#f8d860" opacity="0.8"/>
<circle cx="926.9" cy="403.0" r="3" fill="url(#spark)"/>
<ellipse cx="934.4" cy="384.7" rx="5" ry="4" fill="#f8d860" opacity="0.8"/>
<circle cx="939.4" cy="389.3" r="3" fill="url(#spark)"/>
<ellipse cx="946.8" cy="374.7" rx="5" ry="4" fill="#f8d860" opacity="0.8"/>
<circle cx="951.8" cy="366.3" r="3" fill="url(#spark)"/>
<path d="M866 463 L953 381 L953 426 L866 507 Z" fill="url(#musS)"/>
<path d="M866 463 L953 381 L953 387 L866 470 Z" fill="#a5181d" opacity="0.7"/>
</g>
<path d="M896.0 300.0 Q893.2 282.8 889.0 265.7" stroke="#a23a44" stroke-width="1.30" fill="none" stroke-linecap="round"/><path d="M889.0 265.7 Q889.0 253.7 893.4 241.8" stroke="#a23a44" stroke-width="0.98" fill="none" stroke-linecap="round"/><path d="M893.4 241.8 Q898.4 235.7 902.4 229.6" stroke="#a23a44" stroke-width="0.73" fill="none" stroke-linecap="round"/><path d="M893.4 241.8 Q893.4 234.3 888.9 226.7" stroke="#a23a44" stroke-width="0.73" fill="none" stroke-linecap="round"/><path d="M889.0 265.7 Q881.2 255.6 878.2 245.5" stroke="#a23a44" stroke-width="0.98" fill="none" stroke-linecap="round"/><path d="M878.2 245.5 Q878.2 238.0 876.3 230.5" stroke="#a23a44" stroke-width="0.73" fill="none" stroke-linecap="round"/><path d="M878.2 245.5 Q874.3 240.0 866.5 234.5" stroke="#a23a44" stroke-width="0.73" fill="none" stroke-linecap="round"/>
<path d="M915.0 300.0 Q915.7 278.9 919.2 257.7" stroke="#64649c" stroke-width="1.30" fill="none" stroke-linecap="round"/><path d="M919.2 257.7 Q924.3 246.5 930.5 235.3" stroke="#64649c" stroke-width="0.98" fill="none" stroke-linecap="round"/><path d="M930.5 235.3 Q935.8 230.0 943.6 224.6" stroke="#64649c" stroke-width="0.73" fill="none" stroke-linecap="round"/><path d="M930.5 235.3 Q927.7 228.3 929.8 221.2" stroke="#64649c" stroke-width="0.73" fill="none" stroke-linecap="round"/><path d="M919.2 257.7 Q916.4 245.3 911.5 233.0" stroke="#64649c" stroke-width="0.98" fill="none" stroke-linecap="round"/><path d="M911.5 233.0 Q911.2 225.2 912.8 217.4" stroke="#64649c" stroke-width="0.73" fill="none" stroke-linecap="round"/><path d="M911.5 233.0 Q906.2 226.5 899.7 220.1" stroke="#64649c" stroke-width="0.73" fill="none" stroke-linecap="round"/>
<path d="M852 448 C882 422 912 394 938 367 C948 357 955 349 962 340" stroke="#3f6fc6" stroke-width="4" fill="none" stroke-linecap="round"/>
<path d="M855 452 C885 426 915 398 941 371 C951 361 958 353 965 344" stroke="#d42626" stroke-width="4" fill="none" stroke-linecap="round"/>
<path d="M598 435.5 C650 435 705 434 750 434.5 C800 436 845 435 893 434" stroke="#3f6fc6" stroke-width="5.5" fill="none" stroke-linecap="round"/>
<path d="M598 430 C650 429 710 428 760 428 C800 428 840 429 893 428" stroke="#d42626" stroke-width="5.5" fill="none" stroke-linecap="round"/>
<polygon points="715,169 953,169 866,251 609,251" fill="#eab06c"/>
<clipPath id="cRT"><polygon points="715,169 953,169 866,251 609,251"/></clipPath>
<g clip-path="url(#cRT)"><g filter="url(#blur4)"><g transform="matrix(1,0,-1.2,1,202.8,0)">
<rect x="703" y="171.5" width="70" height="15" rx="10" fill="#f2c48c"/>
<rect x="782" y="171.5" width="89" height="15" rx="10" fill="#f4ca94"/>
<rect x="885" y="171.5" width="87" height="15" rx="10" fill="#f3c68f"/>
<rect x="703" y="193.5" width="60" height="31" rx="10" fill="#eebb80"/>
<rect x="772" y="193.5" width="123" height="31" rx="10" fill="#f5d09f"/>
<rect x="904" y="193.5" width="68" height="31" rx="10" fill="#f4cc98"/>
<rect x="703" y="231.5" width="70" height="18" rx="10" fill="#f2c48c"/>
<rect x="782" y="231.5" width="113" height="18" rx="10" fill="#f4cc98"/>
<rect x="904" y="231.5" width="68" height="18" rx="10" fill="#f2c48c"/>
<rect x="790" y="194" width="95" height="20" rx="9" fill="#f9dcb6" opacity="0.85"/>
<rect x="910" y="195" width="52" height="17" rx="9" fill="#f9dcb6" opacity="0.85"/>
<rect x="795" y="232" width="90" height="11" rx="9" fill="#f9dcb6" opacity="0.85"/>
<rect x="790" y="172" width="76" height="10" rx="9" fill="#f9dcb6" opacity="0.85"/>
<rect x="720" y="172" width="46" height="10" rx="9" fill="#f9dcb6" opacity="0.85"/>
<rect x="895" y="172" width="65" height="10" rx="9" fill="#f9dcb6" opacity="0.85"/>
<rect x="715" y="232" width="51" height="10" rx="9" fill="#f9dcb6" opacity="0.85"/>
</g></g></g>
<path d="M715 169.5 L780 169.5 Q790 166 805 166.5 Q820 166 835 168 Q850 169.5 880 169 Q900 165.5 920 166 Q940 166.5 953 169.5 Z" fill="#efbb80"/>
<path d="M112.7 139.3 Q106.3 175.7 101.4 212.4 Q103.2 214.1 105.0 212.8 Q108.6 176.1 113.9 139.5 Z" fill="#1e1a1b"/>
<path d="M251.4 103.3 Q244.4 139.7 238.9 176.3 Q240.7 178.1 242.5 176.9 Q246.7 140.1 252.6 103.5 Z" fill="#1e1a1b"/>
<path d="M309.7 141.7 Q303.5 176.9 298.9 212.4 Q300.7 214.1 302.5 212.8 Q305.9 177.3 310.9 141.9 Z" fill="#1e1a1b"/>
<path d="M700.4 138.6 Q693.6 174.2 688.4 209.9 Q690.2 211.7 692.0 210.5 Q696.0 174.5 701.6 138.8 Z" fill="#1e1a1b"/>
<path d="M828.4 101.5 Q821.5 138.0 816.2 174.7 Q818.0 176.5 819.8 175.3 Q823.9 138.4 829.6 101.7 Z" fill="#1e1a1b"/>
<path d="M891.5 133.5 Q885.1 169.7 880.2 206.2 Q882.0 207.9 883.8 206.6 Q887.4 170.1 892.7 133.7 Z" fill="#1e1a1b"/>
<line x1="135" y1="92" x2="172" y2="172" stroke="#3c3c3c" stroke-width="1.2"/>
<line x1="442.7" y1="143" x2="368.5" y2="189" stroke="#3c3c3c" stroke-width="1.2"/>
<line x1="446.9" y1="191.2" x2="361" y2="224.8" stroke="#3c3c3c" stroke-width="1.2"/>
<line x1="446.9" y1="191.2" x2="366" y2="254" stroke="#3c3c3c" stroke-width="1.2"/>
<line x1="458.2" y1="250" x2="369.3" y2="258.3" stroke="#3c3c3c" stroke-width="1.2"/>
<line x1="452.3" y1="281.4" x2="358.9" y2="307.8" stroke="#3c3c3c" stroke-width="1.2"/>
<line x1="413.3" y1="328.7" x2="367.2" y2="326.2" stroke="#3c3c3c" stroke-width="1.2"/>
<line x1="418" y1="468.8" x2="300" y2="442" stroke="#3c3c3c" stroke-width="1.2"/>
<line x1="452" y1="515.5" x2="302" y2="484" stroke="#3c3c3c" stroke-width="1.2"/>
<line x1="541" y1="144" x2="638.2" y2="253.5" stroke="#3c3c3c" stroke-width="1.2"/>
<line x1="539.7" y1="192.2" x2="649" y2="288.5" stroke="#3c3c3c" stroke-width="1.2"/>
<line x1="539.7" y1="192.2" x2="627.2" y2="299.4" stroke="#3c3c3c" stroke-width="1.2"/>
<line x1="526.6" y1="249" x2="609.7" y2="294.2" stroke="#3c3c3c" stroke-width="1.2"/>
<line x1="533.1" y1="282.8" x2="653.5" y2="327.9" stroke="#3c3c3c" stroke-width="1.2"/>
<line x1="542" y1="370" x2="616" y2="364" stroke="#3c3c3c" stroke-width="1.2"/>
<line x1="570" y1="426" x2="634" y2="398" stroke="#3c3c3c" stroke-width="1.2"/>
<line x1="564" y1="472.8" x2="634" y2="450" stroke="#3c3c3c" stroke-width="1.2"/>
<line x1="532" y1="516" x2="632" y2="484" stroke="#3c3c3c" stroke-width="1.2"/>
<line x1="877.6" y1="96.5" x2="830.8" y2="212.8" stroke="#3c3c3c" stroke-width="1.2"/>
<line x1="877.6" y1="96.5" x2="863.3" y2="177" stroke="#3c3c3c" stroke-width="1.2"/>
</svg>
<div class="t" style="left:224.8px;top:7.6px;font-size:38.7px;-webkit-text-stroke:0.5px #821c26;transform:scaleX(0.888);transform-origin:0 0;font-weight:bold;color:#821c26;">THE FORMATION OF CELLULITE</div><div class="t" style="left:26px;top:73.6px;font-size:18px;-webkit-text-stroke:0.35px #1a1718;font-weight:bold;color:#1a1718;">Normal skin</div><div class="t" style="left:826px;top:73.6px;font-size:18px;-webkit-text-stroke:0.35px #1a1718;font-weight:bold;color:#1a1718;">«Orange peel»</div><div class="t" style="left:452px;top:132px;font-size:18px;">Epidermis</div><div class="t" style="left:456px;top:170.8px;font-size:18px;">Collagen</div><div class="t" style="left:447px;top:190.3px;font-size:18px;">and elastin</div><div class="t" style="left:463px;top:241.8px;font-size:18px;">Dermis</div><div class="t" style="left:460px;top:275.3px;font-size:18px;">Fat cells</div><div class="t" style="left:421px;top:320.3px;font-size:18px;">Connective tissue</div><div class="t" style="left:451px;top:358.5px;font-size:18px;">Fibrosis of</div><div class="t" style="left:421px;top:377.8px;font-size:18px;">connection tissue</div><div class="t" style="left:424px;top:416px;font-size:18px;">Enlarged fat cells</div><div class="t" style="left:426px;top:461.3px;font-size:18px;">Reserve fat layer</div><div class="t" style="left:460px;top:506.8px;font-size:18px;">Muscles</div>
</body></html>
